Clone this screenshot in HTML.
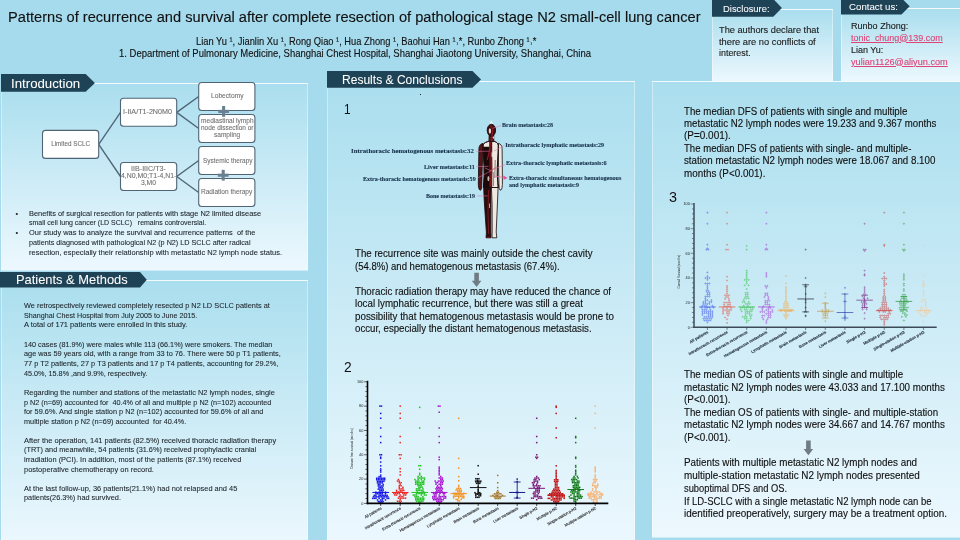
<!DOCTYPE html>
<html><head><meta charset="utf-8"><title>Poster</title><style>
html,body{margin:0;padding:0}
body{width:960px;height:540px;overflow:hidden;background:#a6dbee;position:relative;font-family:"Liberation Sans",sans-serif}
.p{position:absolute;box-sizing:border-box;border:1px solid rgba(255,255,255,.42);background:linear-gradient(180deg,#aadeee 0%,#edf8fe 100%)}
.a{position:absolute;overflow:visible}
.t{position:absolute;white-space:nowrap;transform-origin:0 50%;display:block}
#root{position:absolute;left:0;top:0;width:960px;height:540px;overflow:hidden;will-change:transform;transform:translateZ(0)}
</style></head><body><div id="root">
<div class="p" style="left:712px;top:9px;width:121px;height:74px;"></div>
<div class="p" style="left:841px;top:8px;width:125px;height:75px;"></div>
<div class="p" style="left:1px;top:83px;width:306.7px;height:188px;"></div>
<div class="p" style="left:1px;top:279.5px;width:306.7px;height:270px;"></div>
<div class="p" style="left:327px;top:81px;width:308px;height:470px;"></div>
<div class="p" style="left:652px;top:81px;width:320px;height:456.5px;"></div>
<svg class="a" style="left:1px;top:74px" width="93.9" height="17.8" viewBox="0 0 93.9 17.8"><polygon points="0,0 84.7,0 93.9,8.9 84.7,17.8 0,17.8" fill="#1e4256"/></svg>
<svg class="a" style="left:-2px;top:272px" width="148.8" height="15.6" viewBox="0 0 148.8 15.6"><polygon points="0,0 142,0 148.8,7.8 142,15.6 0,15.6" fill="#1e4256"/></svg>
<svg class="a" style="left:327px;top:71px" width="154.1" height="16.8" viewBox="0 0 154.1 16.8"><polygon points="0,0 145.5,0 154.1,8.4 145.5,16.8 0,16.8" fill="#1e4256"/></svg>
<svg class="a" style="left:712px;top:-1px" width="69.89999999999999" height="17.8" viewBox="0 0 69.89999999999999 17.8"><polygon points="0,0 61.3,0 69.89999999999999,8.9 61.3,17.8 0,17.8" fill="#1e4256"/></svg>
<svg class="a" style="left:841px;top:-2px" width="68.7" height="16.5" viewBox="0 0 68.7 16.5"><polygon points="0,0 60.5,0 68.7,8.25 60.5,16.5 0,16.5" fill="#1e4256"/></svg>
<span class="t" style="left:10.50px;top:74.07px;font-size:13px;line-height:19px;height:19px;color:#ffffff;font-family:'Liberation Sans',sans-serif;transform:scaleX(1.0186);-webkit-text-stroke:0.05px #ffffff;">Introduction</span>
<span class="t" style="left:16.30px;top:269.57px;font-size:13px;line-height:19px;height:19px;color:#ffffff;font-family:'Liberation Sans',sans-serif;transform:scaleX(0.9909);-webkit-text-stroke:0.05px #ffffff;">Patients &amp; Methods</span>
<span class="t" style="left:341.50px;top:70.07px;font-size:13px;line-height:19px;height:19px;color:#ffffff;font-family:'Liberation Sans',sans-serif;transform:scaleX(0.9265);-webkit-text-stroke:0.05px #ffffff;">Results &amp; Conclusions</span>
<span class="t" style="left:722.70px;top:0.95px;font-size:9.8px;line-height:15px;height:15px;color:#ffffff;font-family:'Liberation Sans',sans-serif;transform:scaleX(0.9614);-webkit-text-stroke:0.05px #ffffff;">Disclosure:</span>
<span class="t" style="left:849.30px;top:-0.85px;font-size:9.8px;line-height:15px;height:15px;color:#ffffff;font-family:'Liberation Sans',sans-serif;transform:scaleX(0.9885);-webkit-text-stroke:0.05px #ffffff;">Contact us:</span>
<span class="t" style="left:7.50px;top:6.58px;font-size:14px;line-height:20px;height:20px;color:#111111;font-family:'Liberation Sans',sans-serif;transform:scaleX(1.0445);-webkit-text-stroke:0.12px #111111;">Patterns of recurrence and survival after complete resection of pathological stage N2 small-cell lung cancer</span>
<span class="t" style="left:195.50px;top:33.90px;font-size:10.3px;line-height:15px;height:15px;color:#111111;font-family:'Liberation Sans',sans-serif;transform:scaleX(0.9043);-webkit-text-stroke:0.12px #111111;">Lian Yu ¹, Jianlin Xu ¹, Rong Qiao ¹, Hua Zhong ¹, Baohui Han ¹˒*, Runbo Zhong ¹˒*</span>
<span class="t" style="left:118.80px;top:46.30px;font-size:10.3px;line-height:15px;height:15px;color:#111111;font-family:'Liberation Sans',sans-serif;transform:scaleX(0.9218);-webkit-text-stroke:0.12px #111111;">1. Department of Pulmonary Medicine, Shanghai Chest Hospital, Shanghai Jiaotong University, Shanghai, China</span>
<span class="t" style="left:719.30px;top:23.02px;font-size:9px;line-height:14px;height:14px;color:#1c1c1c;font-family:'Liberation Sans',sans-serif;transform:scaleX(1.0250);-webkit-text-stroke:0.12px #1c1c1c;">The authors declare that</span>
<span class="t" style="left:719.30px;top:34.62px;font-size:9px;line-height:14px;height:14px;color:#1c1c1c;font-family:'Liberation Sans',sans-serif;transform:scaleX(1.0336);-webkit-text-stroke:0.12px #1c1c1c;">there are no conflicts of</span>
<span class="t" style="left:719.30px;top:46.22px;font-size:9px;line-height:14px;height:14px;color:#1c1c1c;font-family:'Liberation Sans',sans-serif;transform:scaleX(0.9902);-webkit-text-stroke:0.12px #1c1c1c;">interest.</span>
<span class="t" style="left:851.00px;top:19.02px;font-size:9px;line-height:14px;height:14px;color:#1c1c1c;font-family:'Liberation Sans',sans-serif;transform:scaleX(1.0045);-webkit-text-stroke:0.12px #1c1c1c;">Runbo Zhong:</span>
<span class="t" style="left:851.00px;top:30.52px;font-size:9px;line-height:14px;height:14px;color:#dd4477;font-family:'Liberation Sans',sans-serif;transform:scaleX(0.9946);text-decoration:underline;-webkit-text-stroke:0.12px #dd4477;">tonic_chung@139.com</span>
<span class="t" style="left:851.00px;top:42.92px;font-size:9px;line-height:14px;height:14px;color:#1c1c1c;font-family:'Liberation Sans',sans-serif;-webkit-text-stroke:0.12px #1c1c1c;">Lian Yu:</span>
<span class="t" style="left:851.00px;top:54.52px;font-size:9px;line-height:14px;height:14px;color:#dd4477;font-family:'Liberation Sans',sans-serif;transform:scaleX(1.0176);text-decoration:underline;-webkit-text-stroke:0.12px #dd4477;">yulian1126@aliyun.com</span>
<span class="t" style="left:15.6px;top:207.6px;font-size:7.5px;line-height:12px;color:#222">&#8226;</span>
<span class="t" style="left:15.6px;top:227.3px;font-size:7.5px;line-height:12px;color:#222">&#8226;</span>
<span class="t" style="left:29.30px;top:208.68px;font-size:7.1px;line-height:11px;height:11px;color:#20282e;font-family:'Liberation Sans',sans-serif;transform:scaleX(1.0478);-webkit-text-stroke:0.08px #20282e;">Benefits of surgical resection for patients with stage N2 limited disease</span>
<span class="t" style="left:29.30px;top:218.38px;font-size:7.1px;line-height:11px;height:11px;color:#20282e;font-family:'Liberation Sans',sans-serif;transform:scaleX(0.9859);-webkit-text-stroke:0.08px #20282e;white-space:pre;">small cell lung cancer (LD SCLC)   remains controversial.</span>
<span class="t" style="left:29.30px;top:228.28px;font-size:7.1px;line-height:11px;height:11px;color:#20282e;font-family:'Liberation Sans',sans-serif;transform:scaleX(1.0463);-webkit-text-stroke:0.08px #20282e;white-space:pre;">Our study was to analyze the survival and recurrence patterns  of the</span>
<span class="t" style="left:29.30px;top:237.88px;font-size:7.1px;line-height:11px;height:11px;color:#20282e;font-family:'Liberation Sans',sans-serif;transform:scaleX(1.0176);-webkit-text-stroke:0.08px #20282e;">patients diagnosed with pathological N2 (p N2) LD SCLC after radical</span>
<span class="t" style="left:29.30px;top:247.58px;font-size:7.1px;line-height:11px;height:11px;color:#20282e;font-family:'Liberation Sans',sans-serif;transform:scaleX(1.0570);-webkit-text-stroke:0.08px #20282e;">resection, especially their relationship with metastatic N2 lymph node status.</span>
<span class="t" style="left:24.00px;top:300.88px;font-size:7.1px;line-height:11px;height:11px;color:#20282e;font-family:'Liberation Sans',sans-serif;transform:scaleX(1.0361);-webkit-text-stroke:0.08px #20282e;white-space:pre;">We retrospectively reviewed completely resected p N2 LD SCLC patients at</span>
<span class="t" style="left:24.00px;top:310.58px;font-size:7.1px;line-height:11px;height:11px;color:#20282e;font-family:'Liberation Sans',sans-serif;transform:scaleX(1.0105);-webkit-text-stroke:0.08px #20282e;white-space:pre;">Shanghai Chest Hospital from July 2005 to June 2015.</span>
<span class="t" style="left:24.00px;top:320.38px;font-size:7.1px;line-height:11px;height:11px;color:#20282e;font-family:'Liberation Sans',sans-serif;transform:scaleX(1.0631);-webkit-text-stroke:0.08px #20282e;white-space:pre;">A total of 171 patients were enrolled in this study.</span>
<span class="t" style="left:24.00px;top:339.58px;font-size:7.1px;line-height:11px;height:11px;color:#20282e;font-family:'Liberation Sans',sans-serif;transform:scaleX(1.0217);-webkit-text-stroke:0.08px #20282e;white-space:pre;">140 cases (81.9%) were males while 113 (66.1%) were smokers. The median</span>
<span class="t" style="left:24.00px;top:349.38px;font-size:7.1px;line-height:11px;height:11px;color:#20282e;font-family:'Liberation Sans',sans-serif;transform:scaleX(1.0363);-webkit-text-stroke:0.08px #20282e;white-space:pre;">age was 59 years old, with a range from 33 to 76. There were 50 p T1 patients,</span>
<span class="t" style="left:24.00px;top:358.98px;font-size:7.1px;line-height:11px;height:11px;color:#20282e;font-family:'Liberation Sans',sans-serif;transform:scaleX(1.0399);-webkit-text-stroke:0.08px #20282e;white-space:pre;">77 p T2 patients, 27 p T3 patients and 17 p T4 patients, accounting for 29.2%,</span>
<span class="t" style="left:24.00px;top:368.78px;font-size:7.1px;line-height:11px;height:11px;color:#20282e;font-family:'Liberation Sans',sans-serif;transform:scaleX(1.0204);-webkit-text-stroke:0.08px #20282e;white-space:pre;">45.0%, 15.8% ,and 9.9%, respectively.</span>
<span class="t" style="left:24.00px;top:387.98px;font-size:7.1px;line-height:11px;height:11px;color:#20282e;font-family:'Liberation Sans',sans-serif;transform:scaleX(1.0426);-webkit-text-stroke:0.08px #20282e;white-space:pre;">Regarding the number and stations of the metastatic N2 lymph nodes, single</span>
<span class="t" style="left:24.00px;top:397.58px;font-size:7.1px;line-height:11px;height:11px;color:#20282e;font-family:'Liberation Sans',sans-serif;transform:scaleX(1.0213);-webkit-text-stroke:0.08px #20282e;white-space:pre;">p N2 (n=69) accounted for  40.4% of all and multiple p N2 (n=102) accounted</span>
<span class="t" style="left:24.00px;top:407.18px;font-size:7.1px;line-height:11px;height:11px;color:#20282e;font-family:'Liberation Sans',sans-serif;transform:scaleX(1.0346);-webkit-text-stroke:0.08px #20282e;white-space:pre;">for 59.6%. And single station p N2 (n=102) accounted for 59.6% of all and</span>
<span class="t" style="left:24.00px;top:416.88px;font-size:7.1px;line-height:11px;height:11px;color:#20282e;font-family:'Liberation Sans',sans-serif;transform:scaleX(1.0280);-webkit-text-stroke:0.08px #20282e;white-space:pre;">multiple station p N2 (n=69) accounted  for 40.4%.</span>
<span class="t" style="left:24.00px;top:435.98px;font-size:7.1px;line-height:11px;height:11px;color:#20282e;font-family:'Liberation Sans',sans-serif;transform:scaleX(1.0592);-webkit-text-stroke:0.08px #20282e;white-space:pre;">After the operation, 141 patients (82.5%) received thoracic radiation therapy</span>
<span class="t" style="left:24.00px;top:445.08px;font-size:7.1px;line-height:11px;height:11px;color:#20282e;font-family:'Liberation Sans',sans-serif;transform:scaleX(1.0324);-webkit-text-stroke:0.08px #20282e;white-space:pre;">(TRT) and meanwhile, 54 patients (31.6%) received prophylactic cranial</span>
<span class="t" style="left:24.00px;top:455.18px;font-size:7.1px;line-height:11px;height:11px;color:#20282e;font-family:'Liberation Sans',sans-serif;transform:scaleX(1.0458);-webkit-text-stroke:0.08px #20282e;white-space:pre;">irradiation (PCI). In addition, most of the patients (87.1%) received</span>
<span class="t" style="left:24.00px;top:464.88px;font-size:7.1px;line-height:11px;height:11px;color:#20282e;font-family:'Liberation Sans',sans-serif;transform:scaleX(1.0523);-webkit-text-stroke:0.08px #20282e;white-space:pre;">postoperative chemotherapy on record.</span>
<span class="t" style="left:24.00px;top:483.98px;font-size:7.1px;line-height:11px;height:11px;color:#20282e;font-family:'Liberation Sans',sans-serif;transform:scaleX(1.0462);-webkit-text-stroke:0.08px #20282e;white-space:pre;">At the last follow-up, 36 patients(21.1%) had not relapsed and 45</span>
<span class="t" style="left:24.00px;top:492.98px;font-size:7.1px;line-height:11px;height:11px;color:#20282e;font-family:'Liberation Sans',sans-serif;transform:scaleX(1.0327);-webkit-text-stroke:0.08px #20282e;white-space:pre;">patients(26.3%) had survived.</span>
<span class="t" style="left:355.00px;top:246.43px;font-size:10px;line-height:15px;height:15px;color:#101010;font-family:'Liberation Sans',sans-serif;transform:scaleX(0.9689);-webkit-text-stroke:0.12px #101010;">The recurrence site was mainly outside the chest cavity</span>
<span class="t" style="left:355.00px;top:258.73px;font-size:10px;line-height:15px;height:15px;color:#101010;font-family:'Liberation Sans',sans-serif;transform:scaleX(0.9540);-webkit-text-stroke:0.12px #101010;">(54.8%) and hematogenous metastasis (67.4%).</span>
<span class="t" style="left:355.00px;top:283.83px;font-size:10px;line-height:15px;height:15px;color:#101010;font-family:'Liberation Sans',sans-serif;transform:scaleX(0.9716);-webkit-text-stroke:0.12px #101010;">Thoracic radiation therapy may have reduced the chance of</span>
<span class="t" style="left:355.00px;top:296.33px;font-size:10px;line-height:15px;height:15px;color:#101010;font-family:'Liberation Sans',sans-serif;transform:scaleX(0.9790);-webkit-text-stroke:0.12px #101010;">local lymphatic recurrence, but there was still a great</span>
<span class="t" style="left:355.00px;top:308.83px;font-size:10px;line-height:15px;height:15px;color:#101010;font-family:'Liberation Sans',sans-serif;transform:scaleX(0.9788);-webkit-text-stroke:0.12px #101010;">possibility that hematogenous metastasis would be prone to</span>
<span class="t" style="left:355.00px;top:321.33px;font-size:10px;line-height:15px;height:15px;color:#101010;font-family:'Liberation Sans',sans-serif;transform:scaleX(0.9674);-webkit-text-stroke:0.12px #101010;">occur, especially the distant hematogenous metastasis.</span>
<span class="t" style="left:684.20px;top:103.53px;font-size:10px;line-height:15px;height:15px;color:#101010;font-family:'Liberation Sans',sans-serif;transform:scaleX(0.9680);-webkit-text-stroke:0.12px #101010;">The median DFS of patients with single and multiple</span>
<span class="t" style="left:684.20px;top:115.73px;font-size:10px;line-height:15px;height:15px;color:#101010;font-family:'Liberation Sans',sans-serif;transform:scaleX(0.9661);-webkit-text-stroke:0.12px #101010;">metastatic N2 lymph nodes were 19.233 and 9.367 months</span>
<span class="t" style="left:684.20px;top:128.23px;font-size:10px;line-height:15px;height:15px;color:#101010;font-family:'Liberation Sans',sans-serif;transform:scaleX(0.9963);-webkit-text-stroke:0.12px #101010;">(P=0.001).</span>
<span class="t" style="left:684.20px;top:140.93px;font-size:10px;line-height:15px;height:15px;color:#101010;font-family:'Liberation Sans',sans-serif;transform:scaleX(0.9581);-webkit-text-stroke:0.12px #101010;">The median DFS of patients with single- and multiple-</span>
<span class="t" style="left:684.20px;top:153.33px;font-size:10px;line-height:15px;height:15px;color:#101010;font-family:'Liberation Sans',sans-serif;transform:scaleX(0.9746);-webkit-text-stroke:0.12px #101010;">station metastatic N2 lymph nodes were 18.067 and 8.100</span>
<span class="t" style="left:684.20px;top:165.93px;font-size:10px;line-height:15px;height:15px;color:#101010;font-family:'Liberation Sans',sans-serif;transform:scaleX(0.9861);-webkit-text-stroke:0.12px #101010;">months (P&lt;0.001).</span>
<span class="t" style="left:684.20px;top:367.33px;font-size:10px;line-height:15px;height:15px;color:#101010;font-family:'Liberation Sans',sans-serif;transform:scaleX(0.9732);-webkit-text-stroke:0.12px #101010;">The median OS of patients with single and multiple</span>
<span class="t" style="left:684.20px;top:379.73px;font-size:10px;line-height:15px;height:15px;color:#101010;font-family:'Liberation Sans',sans-serif;transform:scaleX(0.9774);-webkit-text-stroke:0.12px #101010;">metastatic N2 lymph nodes were 43.033 and 17.100 months</span>
<span class="t" style="left:684.20px;top:392.23px;font-size:10px;line-height:15px;height:15px;color:#101010;font-family:'Liberation Sans',sans-serif;transform:scaleX(0.9899);-webkit-text-stroke:0.12px #101010;">(P&lt;0.001).</span>
<span class="t" style="left:684.20px;top:404.83px;font-size:10px;line-height:15px;height:15px;color:#101010;font-family:'Liberation Sans',sans-serif;transform:scaleX(0.9726);-webkit-text-stroke:0.12px #101010;">The median OS of patients with single- and multiple-station</span>
<span class="t" style="left:684.20px;top:417.33px;font-size:10px;line-height:15px;height:15px;color:#101010;font-family:'Liberation Sans',sans-serif;transform:scaleX(0.9774);-webkit-text-stroke:0.12px #101010;">metastatic N2 lymph nodes were 34.667 and 14.767 months</span>
<span class="t" style="left:684.20px;top:429.83px;font-size:10px;line-height:15px;height:15px;color:#101010;font-family:'Liberation Sans',sans-serif;transform:scaleX(0.9899);-webkit-text-stroke:0.12px #101010;">(P&lt;0.001).</span>
<span class="t" style="left:684.20px;top:455.13px;font-size:10px;line-height:15px;height:15px;color:#101010;font-family:'Liberation Sans',sans-serif;transform:scaleX(0.9844);-webkit-text-stroke:0.12px #101010;">Patients with multiple metastatic N2 lymph nodes and</span>
<span class="t" style="left:684.20px;top:468.13px;font-size:10px;line-height:15px;height:15px;color:#101010;font-family:'Liberation Sans',sans-serif;transform:scaleX(0.9912);-webkit-text-stroke:0.12px #101010;">multiple-station metastatic N2 lymph nodes presented</span>
<span class="t" style="left:684.20px;top:480.73px;font-size:10px;line-height:15px;height:15px;color:#101010;font-family:'Liberation Sans',sans-serif;transform:scaleX(0.9321);-webkit-text-stroke:0.12px #101010;">suboptimal DFS and OS.</span>
<span class="t" style="left:684.20px;top:493.73px;font-size:10px;line-height:15px;height:15px;color:#101010;font-family:'Liberation Sans',sans-serif;transform:scaleX(0.9515);-webkit-text-stroke:0.12px #101010;">If LD-SCLC with a single metastatic N2 lymph node can be</span>
<span class="t" style="left:684.20px;top:506.33px;font-size:10px;line-height:15px;height:15px;color:#101010;font-family:'Liberation Sans',sans-serif;transform:scaleX(0.9909);-webkit-text-stroke:0.12px #101010;">identified preoperatively, surgery may be a treatment option.</span>
<span class="t" style="left:344.30px;top:98.38px;font-size:15.2px;line-height:22px;height:22px;color:#101010;font-family:'Liberation Sans',sans-serif;transform:scaleX(0.7807);">1</span>
<span class="t" style="left:344.30px;top:356.18px;font-size:15.2px;line-height:22px;height:22px;color:#101010;font-family:'Liberation Sans',sans-serif;transform:scaleX(0.9108);">2</span>
<span class="t" style="left:669.30px;top:186.38px;font-size:15.2px;line-height:22px;height:22px;color:#101010;font-family:'Liberation Sans',sans-serif;transform:scaleX(0.9463);">3</span>
<div class="a" style="left:419.5px;top:93.5px;width:1.2px;height:1.2px;background:#222"></div>
<svg class="a" style="left:0;top:0" width="960" height="540"><polygon points="474.30,272.80 478.90,272.80 478.90,280.80 481.40,280.80 476.60,287.00 471.80,280.80 474.30,280.80" fill="#707b84"/></svg>
<svg class="a" style="left:0;top:0" width="960" height="540"><polygon points="806.10,440.60 810.70,440.60 810.70,449.00 813.20,449.00 808.40,455.20 803.60,449.00 806.10,449.00" fill="#707b84"/></svg>
<svg class="a" style="left:0;top:0" width="320" height="280" viewBox="0 0 320 280"><line x1="98.7" y1="144.4" x2="120.5" y2="112.4" stroke="#4f6576" stroke-width="1.35"/><line x1="98.7" y1="144.4" x2="120.5" y2="176.5" stroke="#4f6576" stroke-width="1.35"/><line x1="176.7" y1="112.4" x2="198.7" y2="96.5" stroke="#4f6576" stroke-width="1.35"/><line x1="176.7" y1="112.4" x2="198.7" y2="128.5" stroke="#4f6576" stroke-width="1.35"/><line x1="176.7" y1="176.5" x2="198.7" y2="160.5" stroke="#4f6576" stroke-width="1.35"/><line x1="176.7" y1="176.5" x2="198.7" y2="192.5" stroke="#4f6576" stroke-width="1.35"/><rect x="42.5" y="130.4" width="56.2" height="28" rx="3" ry="3" fill="#ffffff" stroke="#4f6576" stroke-width="1.1"/><rect x="120.5" y="98.3" width="56.2" height="28" rx="3" ry="3" fill="#ffffff" stroke="#4f6576" stroke-width="1.1"/><rect x="120.5" y="162.5" width="56.2" height="28" rx="3" ry="3" fill="#ffffff" stroke="#4f6576" stroke-width="1.1"/><rect x="198.7" y="82.5" width="56.2" height="28" rx="3" ry="3" fill="#ffffff" stroke="#4f6576" stroke-width="1.1"/><rect x="198.7" y="114.5" width="56.2" height="28" rx="3" ry="3" fill="#ffffff" stroke="#4f6576" stroke-width="1.1"/><rect x="198.7" y="146.5" width="56.2" height="28" rx="3" ry="3" fill="#ffffff" stroke="#4f6576" stroke-width="1.1"/><rect x="198.7" y="178.5" width="56.2" height="28" rx="3" ry="3" fill="#ffffff" stroke="#4f6576" stroke-width="1.1"/><rect x="218.2" y="109.85000000000001" width="10.8" height="3.1" fill="#6b8192"/><rect x="222.04999999999998" y="106.0" width="3.1" height="10.8" fill="#6b8192"/><rect x="217.79999999999998" y="173.64999999999998" width="10.8" height="3.1" fill="#6b8192"/><rect x="221.64999999999998" y="169.79999999999998" width="3.1" height="10.8" fill="#6b8192"/></svg>
<span class="t" style="left:51.20px;top:139.45px;font-size:6.3px;line-height:10px;height:10px;color:#6f6f6f;font-family:'Liberation Sans',sans-serif;-webkit-text-stroke:0.08px #6f6f6f;">Limited SCLC</span>
<span class="t" style="left:123.00px;top:106.95px;font-size:6.3px;line-height:10px;height:10px;color:#6f6f6f;font-family:'Liberation Sans',sans-serif;transform:scaleX(1.1379);-webkit-text-stroke:0.08px #6f6f6f;">I-IIA/T1-2N0M0</span>
<span class="t" style="left:131.20px;top:163.75px;font-size:6.3px;line-height:10px;height:10px;color:#6f6f6f;font-family:'Liberation Sans',sans-serif;transform:scaleX(1.1363);-webkit-text-stroke:0.08px #6f6f6f;">IIB-IIIC/T3-</span>
<span class="t" style="left:120.80px;top:170.75px;font-size:6.3px;line-height:10px;height:10px;color:#6f6f6f;font-family:'Liberation Sans',sans-serif;transform:scaleX(1.0988);-webkit-text-stroke:0.08px #6f6f6f;">4,N0,M0;T1-4,N1-</span>
<span class="t" style="left:140.50px;top:177.55px;font-size:6.3px;line-height:10px;height:10px;color:#6f6f6f;font-family:'Liberation Sans',sans-serif;transform:scaleX(1.0710);-webkit-text-stroke:0.08px #6f6f6f;">3,M0</span>
<span class="t" style="left:210.50px;top:90.75px;font-size:6.3px;line-height:10px;height:10px;color:#6f6f6f;font-family:'Liberation Sans',sans-serif;transform:scaleX(1.0546);-webkit-text-stroke:0.08px #6f6f6f;">Lobectomy</span>
<span class="t" style="left:201.20px;top:115.75px;font-size:6.3px;line-height:10px;height:10px;color:#6f6f6f;font-family:'Liberation Sans',sans-serif;transform:scaleX(1.0432);-webkit-text-stroke:0.08px #6f6f6f;">mediastinal lymph</span>
<span class="t" style="left:200.50px;top:122.95px;font-size:6.3px;line-height:10px;height:10px;color:#6f6f6f;font-family:'Liberation Sans',sans-serif;transform:scaleX(1.0267);-webkit-text-stroke:0.08px #6f6f6f;">node dissection or</span>
<span class="t" style="left:213.80px;top:129.95px;font-size:6.3px;line-height:10px;height:10px;color:#6f6f6f;font-family:'Liberation Sans',sans-serif;transform:scaleX(1.0391);-webkit-text-stroke:0.08px #6f6f6f;">sampling</span>
<span class="t" style="left:202.50px;top:155.75px;font-size:6.3px;line-height:10px;height:10px;color:#6f6f6f;font-family:'Liberation Sans',sans-serif;transform:scaleX(1.0245);-webkit-text-stroke:0.08px #6f6f6f;">Systemic therapy</span>
<span class="t" style="left:201.20px;top:187.45px;font-size:6.3px;line-height:10px;height:10px;color:#6f6f6f;font-family:'Liberation Sans',sans-serif;transform:scaleX(1.0388);-webkit-text-stroke:0.08px #6f6f6f;">Radiation therapy</span>
<svg class="a" style="left:0;top:0" width="960" height="540" viewBox="0 0 960 540"><polygon points="491.3,120.2 489.0,125.0 493.7,125.0" fill="#f2fafd" opacity="0.92"/><path d="M 483.0,143.4 C 480.6,143.8 479.0,145.6 478.9,148.6 L 478.6,166 L 478.3,184.5 Q 478.6,190.6 480.6,190.2 Q 482.0,189.6 481.8,184 L 482.2,168 L 483.0,151 Z" fill="#5a1418" stroke="#160a0c" stroke-width="0.8" stroke-linejoin="round"/><path d="M 498.4,143.4 C 500.6,143.8 502.0,145.6 502.1,148.6 L 502.3,166 L 502.4,184.5 Q 502.0,190.6 500.2,190.2 Q 498.8,189.6 498.9,184 L 498.6,168 L 498.2,151 Z" fill="#efe9e0" stroke="#160a0c" stroke-width="0.8" stroke-linejoin="round"/><path d="M 483.5,184 L 491.0,184 L 490.9,205 L 490.8,230 L 491.0,237.8 L 486.0,237.8 L 486.4,233 L 485.4,218 L 484.2,200 Z" fill="#2a0c0e" stroke="#160a0c" stroke-width="0.8" stroke-linejoin="round"/><path d="M 491.3,184 L 498.2,184 L 497.6,200 L 496.8,218 L 496.2,232 L 496.8,237.8 L 492.0,237.8 L 492.2,230 L 492.1,205 Z" fill="#efe9e0" stroke="#160a0c" stroke-width="0.8" stroke-linejoin="round"/><path d="M 488.9,141.2 L 493.9,141.2 C 496.0,142.0 497.8,142.8 498.3,145 L 498.2,152 L 497.4,166 L 497.3,176 L 498.2,187.5 L 483.4,187.5 L 484.2,176 L 484.1,166 L 483.2,152 L 483.1,145 C 483.6,142.8 486.6,142.0 488.9,141.2 Z" fill="#efe9e0" stroke="#160a0c" stroke-width="0.8" stroke-linejoin="round"/><defs><clipPath id="tl"><rect x="470" y="146.8" width="21.6" height="60"/></clipPath><clipPath id="tc"><rect x="489.2" y="140" width="3.0" height="50"/></clipPath></defs><path d="M 488.9,141.2 L 493.9,141.2 C 496.0,142.0 497.8,142.8 498.3,145 L 498.2,152 L 497.4,166 L 497.3,176 L 498.2,187.5 L 483.4,187.5 L 484.2,176 L 484.1,166 L 483.2,152 L 483.1,145 C 483.6,142.8 486.6,142.0 488.9,141.2 Z" fill="#1c0808" clip-path="url(#tl)"/><path d="M 488.9,141.2 L 493.9,141.2 C 496.0,142.0 497.8,142.8 498.3,145 L 498.2,152 L 497.4,166 L 497.3,176 L 498.2,187.5 L 483.4,187.5 L 484.2,176 L 484.1,166 L 483.2,152 L 483.1,145 C 483.6,142.8 486.6,142.0 488.9,141.2 Z" fill="#5a1418" clip-path="url(#tc)"/><path d="M 488.9,141.2 L 493.9,141.2 C 496.0,142.0 497.8,142.8 498.3,145 L 498.2,152 L 497.4,166 L 497.3,176 L 498.2,187.5 L 483.4,187.5 L 484.2,176 L 484.1,166 L 483.2,152 L 483.1,145 C 483.6,142.8 486.6,142.0 488.9,141.2 Z" fill="none" stroke="#160a0c" stroke-width="0.8" stroke-linejoin="round"/><path d="M 490.4,142 L 489.2,152 L 487.2,160" stroke="#8e1a24" stroke-width="1.2" fill="none"/><path d="M 491.2,150 L 491.6,170 L 490.6,186" stroke="#7a1820" stroke-width="1.5" fill="none"/><rect x="491.6" y="152.4" width="1.3" height="4.4" fill="#ece3da"/><path d="M 495.2,160 L 494.8,178 M 493.2,172 L 493.4,186" stroke="#5c4a4a" stroke-width="0.7" fill="none"/><path d="M 485.0,168 L 490.6,170.6 L 496.4,167.4" stroke="#b0606c" stroke-width="0.8" fill="none"/><ellipse cx="488.4" cy="178.6" rx="1.0" ry="2.6" fill="#cbb9aa"/><path d="M 488.6,190 L 488.0,212 L 488.6,234" stroke="#7a1a20" stroke-width="1.1" fill="none"/><rect x="489.0" y="203.5" width="1.0" height="4.6" fill="#b8a096"/><path d="M 486.6,237.4 L 490.6,237.4" stroke="#7a1418" stroke-width="1.2"/><path d="M 489.0,135 L 493.8,135 L 493.9,141.6 L 488.9,141.6 Z" fill="#5a1418" stroke="#160a0c" stroke-width="0.6" stroke-linejoin="round"/><ellipse cx="491.4" cy="130.2" rx="4.2" ry="6.0" fill="#3a0e12" stroke="#160a0c" stroke-width="0.9"/><ellipse cx="489.9" cy="131.0" rx="1.2" ry="2.7" fill="#e8d2d2"/><path d="M 490.6,125.6 C 492.6,127 493.2,131 492.0,136 L 491.6,141" stroke="#8a1a26" stroke-width="1.3" fill="none"/><ellipse cx="493.4" cy="137.6" rx="0.7" ry="1.1" fill="#e6d6d2"/><line x1="493.0" y1="128.2" x2="501" y2="125.6" stroke="#e86fa2" stroke-width="0.65" stroke-opacity="0.85"/><line x1="494.2" y1="151.0" x2="504.4" y2="145.6" stroke="#e86fa2" stroke-width="0.65" stroke-opacity="0.85"/><line x1="476.2" y1="151.4" x2="489.2" y2="151.2" stroke="#e86fa2" stroke-width="0.65" stroke-opacity="0.85"/><line x1="476.2" y1="166.6" x2="488.6" y2="166.3" stroke="#e86fa2" stroke-width="0.65" stroke-opacity="0.85"/><line x1="492.8" y1="169.8" x2="505.2" y2="164.6" stroke="#e86fa2" stroke-width="0.65" stroke-opacity="0.85"/><line x1="477.2" y1="178.2" x2="491.5" y2="170.6" stroke="#e86fa2" stroke-width="0.65" stroke-opacity="0.85"/><line x1="493.6" y1="176.0" x2="505.4" y2="177.6" stroke="#e86fa2" stroke-width="0.9" stroke-opacity="0.85"/><polygon points="507.6,177.9 503.3,175.4 503.6,179.8" fill="#e25590"/><line x1="477.0" y1="195.9" x2="487.6" y2="195.9" stroke="#e86fa2" stroke-width="0.65" stroke-opacity="0.85"/></svg>
<span class="t" style="left:502.40px;top:119.94px;font-size:6.1px;line-height:10px;height:10px;color:#15304a;font-family:'Liberation Serif',serif;font-weight:bold;transform:scaleX(0.9934);-webkit-text-stroke:0.1px #15304a;">Brain metastasis:28</span>
<span class="t" style="left:505.20px;top:139.94px;font-size:6.1px;line-height:10px;height:10px;color:#15304a;font-family:'Liberation Serif',serif;font-weight:bold;-webkit-text-stroke:0.1px #15304a;">Intrathoracic lymphatic metastasis:29</span>
<span class="t" style="left:506.10px;top:158.24px;font-size:6.1px;line-height:10px;height:10px;color:#15304a;font-family:'Liberation Serif',serif;font-weight:bold;transform:scaleX(1.0144);-webkit-text-stroke:0.1px #15304a;">Extra-thoracic lymphatic metastasis:6</span>
<span class="t" style="left:509.40px;top:172.94px;font-size:6.1px;line-height:10px;height:10px;color:#15304a;font-family:'Liberation Serif',serif;font-weight:bold;transform:scaleX(0.9961);-webkit-text-stroke:0.1px #15304a;">Extra-thoracic simultaneous hematogenous</span>
<span class="t" style="left:509.40px;top:180.34px;font-size:6.1px;line-height:10px;height:10px;color:#15304a;font-family:'Liberation Serif',serif;font-weight:bold;transform:scaleX(0.9883);-webkit-text-stroke:0.1px #15304a;">and lymphatic metastasis:9</span>
<span class="t" style="left:351.20px;top:145.64px;font-size:6.1px;line-height:10px;height:10px;color:#15304a;font-family:'Liberation Serif',serif;font-weight:bold;transform:scaleX(1.1169);-webkit-text-stroke:0.1px #15304a;">Intrathoracic hematogenous metastasis:32</span>
<span class="t" style="left:424.40px;top:162.24px;font-size:6.1px;line-height:10px;height:10px;color:#15304a;font-family:'Liberation Serif',serif;font-weight:bold;transform:scaleX(1.0118);-webkit-text-stroke:0.1px #15304a;">Liver metastasis:11</span>
<span class="t" style="left:363.40px;top:173.64px;font-size:6.1px;line-height:10px;height:10px;color:#15304a;font-family:'Liberation Serif',serif;font-weight:bold;transform:scaleX(0.9937);-webkit-text-stroke:0.1px #15304a;">Extra-thoracic hematogenous metastasis:59</span>
<span class="t" style="left:426.20px;top:190.94px;font-size:6.1px;line-height:10px;height:10px;color:#15304a;font-family:'Liberation Serif',serif;font-weight:bold;transform:scaleX(0.9870);-webkit-text-stroke:0.1px #15304a;">Bone metastasis:19</span>
<svg class="a" style="left:0;top:0" width="960" height="540" viewBox="0 0 960 540"><rect x="378.35" y="502.29" width="1.5" height="1.5" fill="#1414e4"/><rect x="379.95" y="502.29" width="1.5" height="1.5" fill="#1414e4"/><rect x="381.55" y="502.29" width="1.5" height="1.5" fill="#1414e4"/><rect x="377.55" y="500.74" width="1.5" height="1.5" fill="#1414e4"/><rect x="379.15" y="500.74" width="1.5" height="1.5" fill="#1414e4"/><rect x="380.75" y="500.74" width="1.5" height="1.5" fill="#1414e4"/><rect x="382.35" y="500.74" width="1.5" height="1.5" fill="#1414e4"/><rect x="376.75" y="499.19" width="1.5" height="1.5" fill="#1414e4"/><rect x="379.95" y="499.19" width="1.5" height="1.5" fill="#1414e4"/><rect x="381.55" y="499.19" width="1.5" height="1.5" fill="#1414e4"/><rect x="384.75" y="499.19" width="1.5" height="1.5" fill="#1414e4"/><rect x="371.95" y="497.64" width="1.5" height="1.5" fill="#1414e4"/><rect x="373.55" y="497.64" width="1.5" height="1.5" fill="#1414e4"/><rect x="375.15" y="497.64" width="1.5" height="1.5" fill="#1414e4"/><rect x="378.35" y="497.64" width="1.5" height="1.5" fill="#1414e4"/><rect x="381.55" y="497.64" width="1.5" height="1.5" fill="#1414e4"/><rect x="383.15" y="497.64" width="1.5" height="1.5" fill="#1414e4"/><rect x="386.35" y="497.64" width="1.5" height="1.5" fill="#1414e4"/><rect x="387.95" y="497.64" width="1.5" height="1.5" fill="#1414e4"/><rect x="372.75" y="496.09" width="1.5" height="1.5" fill="#1414e4"/><rect x="374.35" y="496.09" width="1.5" height="1.5" fill="#1414e4"/><rect x="375.95" y="496.09" width="1.5" height="1.5" fill="#1414e4"/><rect x="377.55" y="496.09" width="1.5" height="1.5" fill="#1414e4"/><rect x="379.15" y="496.09" width="1.5" height="1.5" fill="#1414e4"/><rect x="380.75" y="496.09" width="1.5" height="1.5" fill="#1414e4"/><rect x="382.35" y="496.09" width="1.5" height="1.5" fill="#1414e4"/><rect x="383.95" y="496.09" width="1.5" height="1.5" fill="#1414e4"/><rect x="385.55" y="496.09" width="1.5" height="1.5" fill="#1414e4"/><rect x="387.15" y="496.09" width="1.5" height="1.5" fill="#1414e4"/><rect x="373.55" y="494.54" width="1.5" height="1.5" fill="#1414e4"/><rect x="375.15" y="494.54" width="1.5" height="1.5" fill="#1414e4"/><rect x="378.35" y="494.54" width="1.5" height="1.5" fill="#1414e4"/><rect x="379.95" y="494.54" width="1.5" height="1.5" fill="#1414e4"/><rect x="381.55" y="494.54" width="1.5" height="1.5" fill="#1414e4"/><rect x="383.15" y="494.54" width="1.5" height="1.5" fill="#1414e4"/><rect x="384.75" y="494.54" width="1.5" height="1.5" fill="#1414e4"/><rect x="386.35" y="494.54" width="1.5" height="1.5" fill="#1414e4"/><rect x="375.15" y="492.99" width="1.5" height="1.5" fill="#1414e4"/><rect x="376.75" y="492.99" width="1.5" height="1.5" fill="#1414e4"/><rect x="378.35" y="492.99" width="1.5" height="1.5" fill="#1414e4"/><rect x="379.95" y="492.99" width="1.5" height="1.5" fill="#1414e4"/><rect x="381.55" y="492.99" width="1.5" height="1.5" fill="#1414e4"/><rect x="384.75" y="492.99" width="1.5" height="1.5" fill="#1414e4"/><rect x="375.15" y="491.44" width="1.5" height="1.5" fill="#1414e4"/><rect x="378.35" y="491.44" width="1.5" height="1.5" fill="#1414e4"/><rect x="379.95" y="491.44" width="1.5" height="1.5" fill="#1414e4"/><rect x="381.55" y="491.44" width="1.5" height="1.5" fill="#1414e4"/><rect x="384.75" y="491.44" width="1.5" height="1.5" fill="#1414e4"/><rect x="379.15" y="489.89" width="1.5" height="1.5" fill="#1414e4"/><rect x="380.75" y="489.89" width="1.5" height="1.5" fill="#1414e4"/><rect x="382.35" y="489.89" width="1.5" height="1.5" fill="#1414e4"/><rect x="377.55" y="488.34" width="1.5" height="1.5" fill="#1414e4"/><rect x="379.15" y="488.34" width="1.5" height="1.5" fill="#1414e4"/><rect x="380.75" y="488.34" width="1.5" height="1.5" fill="#1414e4"/><rect x="382.35" y="488.34" width="1.5" height="1.5" fill="#1414e4"/><rect x="378.35" y="486.79" width="1.5" height="1.5" fill="#1414e4"/><rect x="379.95" y="486.79" width="1.5" height="1.5" fill="#1414e4"/><rect x="381.55" y="486.79" width="1.5" height="1.5" fill="#1414e4"/><rect x="377.55" y="485.24" width="1.5" height="1.5" fill="#1414e4"/><rect x="379.15" y="485.24" width="1.5" height="1.5" fill="#1414e4"/><rect x="380.75" y="485.24" width="1.5" height="1.5" fill="#1414e4"/><rect x="382.35" y="485.24" width="1.5" height="1.5" fill="#1414e4"/><rect x="377.55" y="483.69" width="1.5" height="1.5" fill="#1414e4"/><rect x="379.15" y="483.69" width="1.5" height="1.5" fill="#1414e4"/><rect x="382.35" y="483.69" width="1.5" height="1.5" fill="#1414e4"/><rect x="376.75" y="482.14" width="1.5" height="1.5" fill="#1414e4"/><rect x="378.35" y="482.14" width="1.5" height="1.5" fill="#1414e4"/><rect x="379.95" y="482.14" width="1.5" height="1.5" fill="#1414e4"/><rect x="381.55" y="482.14" width="1.5" height="1.5" fill="#1414e4"/><rect x="376.75" y="480.59" width="1.5" height="1.5" fill="#1414e4"/><rect x="378.35" y="480.59" width="1.5" height="1.5" fill="#1414e4"/><rect x="379.95" y="480.59" width="1.5" height="1.5" fill="#1414e4"/><rect x="381.55" y="480.59" width="1.5" height="1.5" fill="#1414e4"/><rect x="383.15" y="480.59" width="1.5" height="1.5" fill="#1414e4"/><rect x="375.95" y="479.04" width="1.5" height="1.5" fill="#1414e4"/><rect x="377.55" y="479.04" width="1.5" height="1.5" fill="#1414e4"/><rect x="379.15" y="479.04" width="1.5" height="1.5" fill="#1414e4"/><rect x="380.75" y="479.04" width="1.5" height="1.5" fill="#1414e4"/><rect x="382.35" y="479.04" width="1.5" height="1.5" fill="#1414e4"/><rect x="383.95" y="479.04" width="1.5" height="1.5" fill="#1414e4"/><rect x="375.95" y="477.49" width="1.5" height="1.5" fill="#1414e4"/><rect x="377.55" y="477.49" width="1.5" height="1.5" fill="#1414e4"/><rect x="379.15" y="477.49" width="1.5" height="1.5" fill="#1414e4"/><rect x="380.75" y="477.49" width="1.5" height="1.5" fill="#1414e4"/><rect x="382.35" y="477.49" width="1.5" height="1.5" fill="#1414e4"/><rect x="383.95" y="477.49" width="1.5" height="1.5" fill="#1414e4"/><rect x="378.35" y="475.94" width="1.5" height="1.5" fill="#1414e4"/><rect x="379.95" y="475.94" width="1.5" height="1.5" fill="#1414e4"/><rect x="379.95" y="474.39" width="1.5" height="1.5" fill="#1414e4"/><rect x="379.95" y="471.29" width="1.5" height="1.5" fill="#1414e4"/><rect x="379.95" y="469.74" width="1.5" height="1.5" fill="#1414e4"/><rect x="379.95" y="468.19" width="1.5" height="1.5" fill="#1414e4"/><rect x="379.95" y="465.09" width="1.5" height="1.5" fill="#1414e4"/><rect x="379.15" y="405.37" width="1.5" height="1.5" fill="#1414e4"/><rect x="380.75" y="405.37" width="1.5" height="1.5" fill="#1414e4"/><rect x="379.95" y="412.67" width="1.5" height="1.5" fill="#1414e4"/><rect x="379.95" y="417.53" width="1.5" height="1.5" fill="#1414e4"/><rect x="379.95" y="427.26" width="1.5" height="1.5" fill="#1414e4"/><rect x="379.95" y="435.77" width="1.5" height="1.5" fill="#1414e4"/><rect x="379.95" y="441.85" width="1.5" height="1.5" fill="#1414e4"/><rect x="379.15" y="454.01" width="1.5" height="1.5" fill="#1414e4"/><rect x="380.75" y="454.01" width="1.5" height="1.5" fill="#1414e4"/><rect x="379.95" y="456.44" width="1.5" height="1.5" fill="#1414e4"/><rect x="379.95" y="457.66" width="1.5" height="1.5" fill="#1414e4"/><rect x="379.95" y="461.31" width="1.5" height="1.5" fill="#1414e4"/><line x1="372.40" y1="492.46" x2="389.00" y2="492.46" stroke="#1414e4" stroke-width="1.0"/><rect x="399.45" y="502.04" width="1.5" height="1.5" fill="#ee2424"/><rect x="396.75" y="500.49" width="1.5" height="1.5" fill="#ee2424"/><rect x="398.55" y="500.49" width="1.5" height="1.5" fill="#ee2424"/><rect x="400.35" y="500.49" width="1.5" height="1.5" fill="#ee2424"/><rect x="399.45" y="498.94" width="1.5" height="1.5" fill="#ee2424"/><rect x="397.65" y="497.39" width="1.5" height="1.5" fill="#ee2424"/><rect x="399.45" y="497.39" width="1.5" height="1.5" fill="#ee2424"/><rect x="401.25" y="497.39" width="1.5" height="1.5" fill="#ee2424"/><rect x="403.05" y="497.39" width="1.5" height="1.5" fill="#ee2424"/><rect x="404.85" y="497.39" width="1.5" height="1.5" fill="#ee2424"/><rect x="398.55" y="495.84" width="1.5" height="1.5" fill="#ee2424"/><rect x="400.35" y="495.84" width="1.5" height="1.5" fill="#ee2424"/><rect x="402.15" y="495.84" width="1.5" height="1.5" fill="#ee2424"/><rect x="394.05" y="494.29" width="1.5" height="1.5" fill="#ee2424"/><rect x="395.85" y="494.29" width="1.5" height="1.5" fill="#ee2424"/><rect x="399.45" y="494.29" width="1.5" height="1.5" fill="#ee2424"/><rect x="403.05" y="494.29" width="1.5" height="1.5" fill="#ee2424"/><rect x="404.85" y="494.29" width="1.5" height="1.5" fill="#ee2424"/><rect x="393.15" y="492.74" width="1.5" height="1.5" fill="#ee2424"/><rect x="394.95" y="492.74" width="1.5" height="1.5" fill="#ee2424"/><rect x="396.75" y="492.74" width="1.5" height="1.5" fill="#ee2424"/><rect x="398.55" y="492.74" width="1.5" height="1.5" fill="#ee2424"/><rect x="402.15" y="492.74" width="1.5" height="1.5" fill="#ee2424"/><rect x="403.95" y="492.74" width="1.5" height="1.5" fill="#ee2424"/><rect x="405.75" y="492.74" width="1.5" height="1.5" fill="#ee2424"/><rect x="395.85" y="491.19" width="1.5" height="1.5" fill="#ee2424"/><rect x="397.65" y="491.19" width="1.5" height="1.5" fill="#ee2424"/><rect x="399.45" y="491.19" width="1.5" height="1.5" fill="#ee2424"/><rect x="401.25" y="491.19" width="1.5" height="1.5" fill="#ee2424"/><rect x="395.85" y="489.64" width="1.5" height="1.5" fill="#ee2424"/><rect x="399.45" y="489.64" width="1.5" height="1.5" fill="#ee2424"/><rect x="401.25" y="489.64" width="1.5" height="1.5" fill="#ee2424"/><rect x="403.05" y="489.64" width="1.5" height="1.5" fill="#ee2424"/><rect x="398.55" y="488.09" width="1.5" height="1.5" fill="#ee2424"/><rect x="400.35" y="488.09" width="1.5" height="1.5" fill="#ee2424"/><rect x="402.15" y="488.09" width="1.5" height="1.5" fill="#ee2424"/><rect x="398.55" y="486.54" width="1.5" height="1.5" fill="#ee2424"/><rect x="402.15" y="486.54" width="1.5" height="1.5" fill="#ee2424"/><rect x="398.55" y="484.99" width="1.5" height="1.5" fill="#ee2424"/><rect x="400.35" y="484.99" width="1.5" height="1.5" fill="#ee2424"/><rect x="399.45" y="483.44" width="1.5" height="1.5" fill="#ee2424"/><rect x="398.55" y="481.89" width="1.5" height="1.5" fill="#ee2424"/><rect x="400.35" y="481.89" width="1.5" height="1.5" fill="#ee2424"/><rect x="396.75" y="480.34" width="1.5" height="1.5" fill="#ee2424"/><rect x="398.55" y="480.34" width="1.5" height="1.5" fill="#ee2424"/><rect x="397.65" y="478.79" width="1.5" height="1.5" fill="#ee2424"/><rect x="399.45" y="474.14" width="1.5" height="1.5" fill="#ee2424"/><rect x="399.45" y="471.04" width="1.5" height="1.5" fill="#ee2424"/><rect x="399.45" y="467.94" width="1.5" height="1.5" fill="#ee2424"/><rect x="399.45" y="405.37" width="1.5" height="1.5" fill="#ee2424"/><rect x="399.45" y="412.67" width="1.5" height="1.5" fill="#ee2424"/><rect x="399.45" y="417.53" width="1.5" height="1.5" fill="#ee2424"/><rect x="399.45" y="435.77" width="1.5" height="1.5" fill="#ee2424"/><rect x="399.45" y="441.85" width="1.5" height="1.5" fill="#ee2424"/><rect x="398.55" y="454.01" width="1.5" height="1.5" fill="#ee2424"/><rect x="400.35" y="454.01" width="1.5" height="1.5" fill="#ee2424"/><rect x="399.45" y="457.66" width="1.5" height="1.5" fill="#ee2424"/><line x1="391.90" y1="492.46" x2="408.50" y2="492.46" stroke="#ee2424" stroke-width="1.0"/><rect x="418.15" y="502.04" width="1.5" height="1.5" fill="#20c420"/><rect x="419.75" y="502.04" width="1.5" height="1.5" fill="#20c420"/><rect x="415.75" y="500.49" width="1.5" height="1.5" fill="#20c420"/><rect x="417.35" y="500.49" width="1.5" height="1.5" fill="#20c420"/><rect x="418.95" y="500.49" width="1.5" height="1.5" fill="#20c420"/><rect x="420.55" y="500.49" width="1.5" height="1.5" fill="#20c420"/><rect x="422.15" y="500.49" width="1.5" height="1.5" fill="#20c420"/><rect x="414.95" y="498.94" width="1.5" height="1.5" fill="#20c420"/><rect x="416.55" y="498.94" width="1.5" height="1.5" fill="#20c420"/><rect x="418.15" y="498.94" width="1.5" height="1.5" fill="#20c420"/><rect x="419.75" y="498.94" width="1.5" height="1.5" fill="#20c420"/><rect x="421.35" y="498.94" width="1.5" height="1.5" fill="#20c420"/><rect x="422.95" y="498.94" width="1.5" height="1.5" fill="#20c420"/><rect x="414.95" y="497.39" width="1.5" height="1.5" fill="#20c420"/><rect x="416.55" y="497.39" width="1.5" height="1.5" fill="#20c420"/><rect x="418.15" y="497.39" width="1.5" height="1.5" fill="#20c420"/><rect x="419.75" y="497.39" width="1.5" height="1.5" fill="#20c420"/><rect x="421.35" y="497.39" width="1.5" height="1.5" fill="#20c420"/><rect x="422.95" y="497.39" width="1.5" height="1.5" fill="#20c420"/><rect x="414.15" y="495.84" width="1.5" height="1.5" fill="#20c420"/><rect x="415.75" y="495.84" width="1.5" height="1.5" fill="#20c420"/><rect x="417.35" y="495.84" width="1.5" height="1.5" fill="#20c420"/><rect x="422.15" y="495.84" width="1.5" height="1.5" fill="#20c420"/><rect x="412.55" y="494.29" width="1.5" height="1.5" fill="#20c420"/><rect x="414.15" y="494.29" width="1.5" height="1.5" fill="#20c420"/><rect x="415.75" y="494.29" width="1.5" height="1.5" fill="#20c420"/><rect x="420.55" y="494.29" width="1.5" height="1.5" fill="#20c420"/><rect x="423.75" y="494.29" width="1.5" height="1.5" fill="#20c420"/><rect x="425.35" y="494.29" width="1.5" height="1.5" fill="#20c420"/><rect x="415.75" y="492.74" width="1.5" height="1.5" fill="#20c420"/><rect x="417.35" y="492.74" width="1.5" height="1.5" fill="#20c420"/><rect x="418.95" y="492.74" width="1.5" height="1.5" fill="#20c420"/><rect x="420.55" y="492.74" width="1.5" height="1.5" fill="#20c420"/><rect x="422.15" y="492.74" width="1.5" height="1.5" fill="#20c420"/><rect x="423.75" y="492.74" width="1.5" height="1.5" fill="#20c420"/><rect x="416.55" y="491.19" width="1.5" height="1.5" fill="#20c420"/><rect x="421.35" y="491.19" width="1.5" height="1.5" fill="#20c420"/><rect x="422.95" y="491.19" width="1.5" height="1.5" fill="#20c420"/><rect x="415.75" y="489.64" width="1.5" height="1.5" fill="#20c420"/><rect x="417.35" y="489.64" width="1.5" height="1.5" fill="#20c420"/><rect x="418.95" y="489.64" width="1.5" height="1.5" fill="#20c420"/><rect x="420.55" y="489.64" width="1.5" height="1.5" fill="#20c420"/><rect x="422.15" y="489.64" width="1.5" height="1.5" fill="#20c420"/><rect x="415.75" y="488.09" width="1.5" height="1.5" fill="#20c420"/><rect x="417.35" y="488.09" width="1.5" height="1.5" fill="#20c420"/><rect x="418.95" y="488.09" width="1.5" height="1.5" fill="#20c420"/><rect x="422.15" y="488.09" width="1.5" height="1.5" fill="#20c420"/><rect x="418.15" y="486.54" width="1.5" height="1.5" fill="#20c420"/><rect x="419.75" y="486.54" width="1.5" height="1.5" fill="#20c420"/><rect x="421.35" y="486.54" width="1.5" height="1.5" fill="#20c420"/><rect x="417.35" y="484.99" width="1.5" height="1.5" fill="#20c420"/><rect x="418.95" y="484.99" width="1.5" height="1.5" fill="#20c420"/><rect x="420.55" y="484.99" width="1.5" height="1.5" fill="#20c420"/><rect x="414.95" y="483.44" width="1.5" height="1.5" fill="#20c420"/><rect x="416.55" y="483.44" width="1.5" height="1.5" fill="#20c420"/><rect x="418.15" y="483.44" width="1.5" height="1.5" fill="#20c420"/><rect x="419.75" y="483.44" width="1.5" height="1.5" fill="#20c420"/><rect x="421.35" y="483.44" width="1.5" height="1.5" fill="#20c420"/><rect x="422.95" y="483.44" width="1.5" height="1.5" fill="#20c420"/><rect x="414.95" y="481.89" width="1.5" height="1.5" fill="#20c420"/><rect x="416.55" y="481.89" width="1.5" height="1.5" fill="#20c420"/><rect x="418.15" y="481.89" width="1.5" height="1.5" fill="#20c420"/><rect x="419.75" y="481.89" width="1.5" height="1.5" fill="#20c420"/><rect x="421.35" y="481.89" width="1.5" height="1.5" fill="#20c420"/><rect x="422.95" y="481.89" width="1.5" height="1.5" fill="#20c420"/><rect x="414.95" y="480.34" width="1.5" height="1.5" fill="#20c420"/><rect x="416.55" y="480.34" width="1.5" height="1.5" fill="#20c420"/><rect x="418.15" y="480.34" width="1.5" height="1.5" fill="#20c420"/><rect x="421.35" y="480.34" width="1.5" height="1.5" fill="#20c420"/><rect x="422.95" y="480.34" width="1.5" height="1.5" fill="#20c420"/><rect x="414.15" y="478.79" width="1.5" height="1.5" fill="#20c420"/><rect x="417.35" y="478.79" width="1.5" height="1.5" fill="#20c420"/><rect x="420.55" y="478.79" width="1.5" height="1.5" fill="#20c420"/><rect x="423.75" y="478.79" width="1.5" height="1.5" fill="#20c420"/><rect x="417.35" y="477.24" width="1.5" height="1.5" fill="#20c420"/><rect x="418.95" y="477.24" width="1.5" height="1.5" fill="#20c420"/><rect x="420.55" y="477.24" width="1.5" height="1.5" fill="#20c420"/><rect x="422.15" y="477.24" width="1.5" height="1.5" fill="#20c420"/><rect x="423.75" y="477.24" width="1.5" height="1.5" fill="#20c420"/><rect x="417.35" y="475.69" width="1.5" height="1.5" fill="#20c420"/><rect x="420.55" y="475.69" width="1.5" height="1.5" fill="#20c420"/><rect x="418.95" y="474.14" width="1.5" height="1.5" fill="#20c420"/><rect x="418.95" y="472.59" width="1.5" height="1.5" fill="#20c420"/><rect x="418.95" y="406.59" width="1.5" height="1.5" fill="#20c420"/><rect x="418.95" y="427.26" width="1.5" height="1.5" fill="#20c420"/><rect x="418.95" y="456.44" width="1.5" height="1.5" fill="#20c420"/><rect x="418.15" y="464.95" width="1.5" height="1.5" fill="#20c420"/><rect x="419.75" y="464.95" width="1.5" height="1.5" fill="#20c420"/><rect x="418.95" y="468.60" width="1.5" height="1.5" fill="#20c420"/><line x1="411.40" y1="492.46" x2="428.00" y2="492.46" stroke="#20c420" stroke-width="1.0"/><rect x="436.85" y="502.04" width="1.5" height="1.5" fill="#a810d0"/><rect x="438.45" y="502.04" width="1.5" height="1.5" fill="#a810d0"/><rect x="440.05" y="502.04" width="1.5" height="1.5" fill="#a810d0"/><rect x="436.05" y="500.49" width="1.5" height="1.5" fill="#a810d0"/><rect x="437.65" y="500.49" width="1.5" height="1.5" fill="#a810d0"/><rect x="439.25" y="500.49" width="1.5" height="1.5" fill="#a810d0"/><rect x="440.85" y="500.49" width="1.5" height="1.5" fill="#a810d0"/><rect x="432.85" y="498.94" width="1.5" height="1.5" fill="#a810d0"/><rect x="434.45" y="498.94" width="1.5" height="1.5" fill="#a810d0"/><rect x="436.05" y="498.94" width="1.5" height="1.5" fill="#a810d0"/><rect x="437.65" y="498.94" width="1.5" height="1.5" fill="#a810d0"/><rect x="439.25" y="498.94" width="1.5" height="1.5" fill="#a810d0"/><rect x="440.85" y="498.94" width="1.5" height="1.5" fill="#a810d0"/><rect x="442.45" y="498.94" width="1.5" height="1.5" fill="#a810d0"/><rect x="432.05" y="497.39" width="1.5" height="1.5" fill="#a810d0"/><rect x="433.65" y="497.39" width="1.5" height="1.5" fill="#a810d0"/><rect x="435.25" y="497.39" width="1.5" height="1.5" fill="#a810d0"/><rect x="436.85" y="497.39" width="1.5" height="1.5" fill="#a810d0"/><rect x="438.45" y="497.39" width="1.5" height="1.5" fill="#a810d0"/><rect x="440.05" y="497.39" width="1.5" height="1.5" fill="#a810d0"/><rect x="443.25" y="497.39" width="1.5" height="1.5" fill="#a810d0"/><rect x="444.85" y="497.39" width="1.5" height="1.5" fill="#a810d0"/><rect x="432.05" y="495.84" width="1.5" height="1.5" fill="#a810d0"/><rect x="433.65" y="495.84" width="1.5" height="1.5" fill="#a810d0"/><rect x="435.25" y="495.84" width="1.5" height="1.5" fill="#a810d0"/><rect x="438.45" y="495.84" width="1.5" height="1.5" fill="#a810d0"/><rect x="440.05" y="495.84" width="1.5" height="1.5" fill="#a810d0"/><rect x="441.65" y="495.84" width="1.5" height="1.5" fill="#a810d0"/><rect x="443.25" y="495.84" width="1.5" height="1.5" fill="#a810d0"/><rect x="444.85" y="495.84" width="1.5" height="1.5" fill="#a810d0"/><rect x="433.65" y="494.29" width="1.5" height="1.5" fill="#a810d0"/><rect x="435.25" y="494.29" width="1.5" height="1.5" fill="#a810d0"/><rect x="438.45" y="494.29" width="1.5" height="1.5" fill="#a810d0"/><rect x="443.25" y="494.29" width="1.5" height="1.5" fill="#a810d0"/><rect x="432.85" y="492.74" width="1.5" height="1.5" fill="#a810d0"/><rect x="434.45" y="492.74" width="1.5" height="1.5" fill="#a810d0"/><rect x="436.05" y="492.74" width="1.5" height="1.5" fill="#a810d0"/><rect x="439.25" y="492.74" width="1.5" height="1.5" fill="#a810d0"/><rect x="442.45" y="492.74" width="1.5" height="1.5" fill="#a810d0"/><rect x="444.05" y="492.74" width="1.5" height="1.5" fill="#a810d0"/><rect x="435.25" y="491.19" width="1.5" height="1.5" fill="#a810d0"/><rect x="436.85" y="491.19" width="1.5" height="1.5" fill="#a810d0"/><rect x="438.45" y="491.19" width="1.5" height="1.5" fill="#a810d0"/><rect x="440.05" y="491.19" width="1.5" height="1.5" fill="#a810d0"/><rect x="441.65" y="491.19" width="1.5" height="1.5" fill="#a810d0"/><rect x="436.05" y="489.64" width="1.5" height="1.5" fill="#a810d0"/><rect x="437.65" y="489.64" width="1.5" height="1.5" fill="#a810d0"/><rect x="439.25" y="489.64" width="1.5" height="1.5" fill="#a810d0"/><rect x="440.85" y="489.64" width="1.5" height="1.5" fill="#a810d0"/><rect x="435.25" y="488.09" width="1.5" height="1.5" fill="#a810d0"/><rect x="436.85" y="488.09" width="1.5" height="1.5" fill="#a810d0"/><rect x="438.45" y="488.09" width="1.5" height="1.5" fill="#a810d0"/><rect x="440.05" y="488.09" width="1.5" height="1.5" fill="#a810d0"/><rect x="441.65" y="488.09" width="1.5" height="1.5" fill="#a810d0"/><rect x="436.05" y="486.54" width="1.5" height="1.5" fill="#a810d0"/><rect x="437.65" y="486.54" width="1.5" height="1.5" fill="#a810d0"/><rect x="439.25" y="486.54" width="1.5" height="1.5" fill="#a810d0"/><rect x="440.85" y="486.54" width="1.5" height="1.5" fill="#a810d0"/><rect x="436.85" y="484.99" width="1.5" height="1.5" fill="#a810d0"/><rect x="440.05" y="484.99" width="1.5" height="1.5" fill="#a810d0"/><rect x="435.25" y="483.44" width="1.5" height="1.5" fill="#a810d0"/><rect x="438.45" y="483.44" width="1.5" height="1.5" fill="#a810d0"/><rect x="440.05" y="483.44" width="1.5" height="1.5" fill="#a810d0"/><rect x="441.65" y="483.44" width="1.5" height="1.5" fill="#a810d0"/><rect x="435.25" y="481.89" width="1.5" height="1.5" fill="#a810d0"/><rect x="436.85" y="481.89" width="1.5" height="1.5" fill="#a810d0"/><rect x="440.05" y="481.89" width="1.5" height="1.5" fill="#a810d0"/><rect x="441.65" y="481.89" width="1.5" height="1.5" fill="#a810d0"/><rect x="434.45" y="480.34" width="1.5" height="1.5" fill="#a810d0"/><rect x="437.65" y="480.34" width="1.5" height="1.5" fill="#a810d0"/><rect x="439.25" y="480.34" width="1.5" height="1.5" fill="#a810d0"/><rect x="440.85" y="480.34" width="1.5" height="1.5" fill="#a810d0"/><rect x="442.45" y="480.34" width="1.5" height="1.5" fill="#a810d0"/><rect x="440.05" y="478.79" width="1.5" height="1.5" fill="#a810d0"/><rect x="441.65" y="478.79" width="1.5" height="1.5" fill="#a810d0"/><rect x="438.45" y="477.24" width="1.5" height="1.5" fill="#a810d0"/><rect x="440.05" y="477.24" width="1.5" height="1.5" fill="#a810d0"/><rect x="441.65" y="477.24" width="1.5" height="1.5" fill="#a810d0"/><rect x="440.05" y="475.69" width="1.5" height="1.5" fill="#a810d0"/><rect x="438.45" y="474.14" width="1.5" height="1.5" fill="#a810d0"/><rect x="438.45" y="472.59" width="1.5" height="1.5" fill="#a810d0"/><rect x="438.45" y="471.04" width="1.5" height="1.5" fill="#a810d0"/><rect x="438.45" y="469.49" width="1.5" height="1.5" fill="#a810d0"/><rect x="438.45" y="467.94" width="1.5" height="1.5" fill="#a810d0"/><rect x="438.45" y="466.39" width="1.5" height="1.5" fill="#a810d0"/><rect x="437.65" y="405.37" width="1.5" height="1.5" fill="#a810d0"/><rect x="439.25" y="405.37" width="1.5" height="1.5" fill="#a810d0"/><rect x="438.45" y="411.45" width="1.5" height="1.5" fill="#a810d0"/><rect x="438.45" y="427.26" width="1.5" height="1.5" fill="#a810d0"/><rect x="438.45" y="435.77" width="1.5" height="1.5" fill="#a810d0"/><rect x="438.45" y="441.85" width="1.5" height="1.5" fill="#a810d0"/><rect x="438.45" y="456.44" width="1.5" height="1.5" fill="#a810d0"/><rect x="438.45" y="458.87" width="1.5" height="1.5" fill="#a810d0"/><line x1="430.90" y1="492.46" x2="447.50" y2="492.46" stroke="#a810d0" stroke-width="1.0"/><rect x="457.10" y="500.22" width="1.5" height="1.5" fill="#f5921e"/><rect x="458.80" y="500.22" width="1.5" height="1.5" fill="#f5921e"/><rect x="455.40" y="498.67" width="1.5" height="1.5" fill="#f5921e"/><rect x="457.10" y="498.67" width="1.5" height="1.5" fill="#f5921e"/><rect x="460.50" y="498.67" width="1.5" height="1.5" fill="#f5921e"/><rect x="452.85" y="497.12" width="1.5" height="1.5" fill="#f5921e"/><rect x="457.95" y="497.12" width="1.5" height="1.5" fill="#f5921e"/><rect x="461.35" y="497.12" width="1.5" height="1.5" fill="#f5921e"/><rect x="463.05" y="497.12" width="1.5" height="1.5" fill="#f5921e"/><rect x="452.85" y="495.57" width="1.5" height="1.5" fill="#f5921e"/><rect x="454.55" y="495.57" width="1.5" height="1.5" fill="#f5921e"/><rect x="456.25" y="495.57" width="1.5" height="1.5" fill="#f5921e"/><rect x="457.95" y="495.57" width="1.5" height="1.5" fill="#f5921e"/><rect x="459.65" y="495.57" width="1.5" height="1.5" fill="#f5921e"/><rect x="461.35" y="495.57" width="1.5" height="1.5" fill="#f5921e"/><rect x="463.05" y="495.57" width="1.5" height="1.5" fill="#f5921e"/><rect x="453.70" y="494.02" width="1.5" height="1.5" fill="#f5921e"/><rect x="455.40" y="494.02" width="1.5" height="1.5" fill="#f5921e"/><rect x="457.10" y="494.02" width="1.5" height="1.5" fill="#f5921e"/><rect x="458.80" y="494.02" width="1.5" height="1.5" fill="#f5921e"/><rect x="460.50" y="494.02" width="1.5" height="1.5" fill="#f5921e"/><rect x="462.20" y="494.02" width="1.5" height="1.5" fill="#f5921e"/><rect x="452.85" y="492.47" width="1.5" height="1.5" fill="#f5921e"/><rect x="454.55" y="492.47" width="1.5" height="1.5" fill="#f5921e"/><rect x="456.25" y="492.47" width="1.5" height="1.5" fill="#f5921e"/><rect x="457.95" y="492.47" width="1.5" height="1.5" fill="#f5921e"/><rect x="459.65" y="492.47" width="1.5" height="1.5" fill="#f5921e"/><rect x="463.05" y="492.47" width="1.5" height="1.5" fill="#f5921e"/><rect x="457.10" y="490.92" width="1.5" height="1.5" fill="#f5921e"/><rect x="458.80" y="490.92" width="1.5" height="1.5" fill="#f5921e"/><rect x="460.50" y="490.92" width="1.5" height="1.5" fill="#f5921e"/><rect x="455.40" y="489.37" width="1.5" height="1.5" fill="#f5921e"/><rect x="457.10" y="489.37" width="1.5" height="1.5" fill="#f5921e"/><rect x="458.80" y="489.37" width="1.5" height="1.5" fill="#f5921e"/><rect x="460.50" y="489.37" width="1.5" height="1.5" fill="#f5921e"/><rect x="456.25" y="487.82" width="1.5" height="1.5" fill="#f5921e"/><rect x="457.95" y="487.82" width="1.5" height="1.5" fill="#f5921e"/><rect x="459.65" y="487.82" width="1.5" height="1.5" fill="#f5921e"/><rect x="457.95" y="486.27" width="1.5" height="1.5" fill="#f5921e"/><rect x="457.95" y="484.72" width="1.5" height="1.5" fill="#f5921e"/><rect x="457.95" y="480.07" width="1.5" height="1.5" fill="#f5921e"/><rect x="457.95" y="417.53" width="1.5" height="1.5" fill="#f5921e"/><rect x="457.95" y="457.66" width="1.5" height="1.5" fill="#f5921e"/><rect x="457.95" y="467.39" width="1.5" height="1.5" fill="#f5921e"/><rect x="457.95" y="475.90" width="1.5" height="1.5" fill="#f5921e"/><line x1="450.40" y1="493.67" x2="467.00" y2="493.67" stroke="#f5921e" stroke-width="1.0"/><rect x="475.05" y="496.57" width="1.5" height="1.5" fill="#121212"/><rect x="476.65" y="496.57" width="1.5" height="1.5" fill="#121212"/><rect x="478.25" y="496.57" width="1.5" height="1.5" fill="#121212"/><rect x="475.05" y="495.02" width="1.5" height="1.5" fill="#121212"/><rect x="478.25" y="495.02" width="1.5" height="1.5" fill="#121212"/><rect x="479.85" y="495.02" width="1.5" height="1.5" fill="#121212"/><rect x="475.05" y="493.47" width="1.5" height="1.5" fill="#121212"/><rect x="476.65" y="493.47" width="1.5" height="1.5" fill="#121212"/><rect x="478.25" y="493.47" width="1.5" height="1.5" fill="#121212"/><rect x="479.85" y="493.47" width="1.5" height="1.5" fill="#121212"/><rect x="474.25" y="491.92" width="1.5" height="1.5" fill="#121212"/><rect x="477.45" y="491.92" width="1.5" height="1.5" fill="#121212"/><rect x="479.05" y="491.92" width="1.5" height="1.5" fill="#121212"/><rect x="477.45" y="490.37" width="1.5" height="1.5" fill="#121212"/><rect x="477.45" y="488.82" width="1.5" height="1.5" fill="#121212"/><rect x="477.45" y="485.72" width="1.5" height="1.5" fill="#121212"/><rect x="475.85" y="482.62" width="1.5" height="1.5" fill="#121212"/><rect x="477.45" y="482.62" width="1.5" height="1.5" fill="#121212"/><rect x="479.05" y="482.62" width="1.5" height="1.5" fill="#121212"/><rect x="475.05" y="481.07" width="1.5" height="1.5" fill="#121212"/><rect x="476.65" y="481.07" width="1.5" height="1.5" fill="#121212"/><rect x="478.25" y="481.07" width="1.5" height="1.5" fill="#121212"/><rect x="479.85" y="481.07" width="1.5" height="1.5" fill="#121212"/><rect x="476.65" y="479.52" width="1.5" height="1.5" fill="#121212"/><rect x="475.05" y="477.97" width="1.5" height="1.5" fill="#121212"/><rect x="476.65" y="477.97" width="1.5" height="1.5" fill="#121212"/><rect x="478.25" y="477.97" width="1.5" height="1.5" fill="#121212"/><rect x="477.45" y="464.95" width="1.5" height="1.5" fill="#121212"/><rect x="477.45" y="473.47" width="1.5" height="1.5" fill="#121212"/><line x1="469.90" y1="487.59" x2="486.50" y2="487.59" stroke="#121212" stroke-width="1.0"/><line x1="478.20" y1="493.67" x2="478.20" y2="480.90" stroke="#121212" stroke-width="0.9"/><line x1="474.80" y1="493.67" x2="481.60" y2="493.67" stroke="#121212" stroke-width="0.9"/><line x1="474.80" y1="480.90" x2="481.60" y2="480.90" stroke="#121212" stroke-width="0.9"/><rect x="494.55" y="497.73" width="1.5" height="1.5" fill="#a6762c"/><rect x="496.15" y="497.73" width="1.5" height="1.5" fill="#a6762c"/><rect x="497.75" y="497.73" width="1.5" height="1.5" fill="#a6762c"/><rect x="499.35" y="497.73" width="1.5" height="1.5" fill="#a6762c"/><rect x="493.75" y="496.18" width="1.5" height="1.5" fill="#a6762c"/><rect x="495.35" y="496.18" width="1.5" height="1.5" fill="#a6762c"/><rect x="496.95" y="496.18" width="1.5" height="1.5" fill="#a6762c"/><rect x="498.55" y="496.18" width="1.5" height="1.5" fill="#a6762c"/><rect x="500.15" y="496.18" width="1.5" height="1.5" fill="#a6762c"/><rect x="492.15" y="494.63" width="1.5" height="1.5" fill="#a6762c"/><rect x="495.35" y="494.63" width="1.5" height="1.5" fill="#a6762c"/><rect x="496.95" y="494.63" width="1.5" height="1.5" fill="#a6762c"/><rect x="501.75" y="494.63" width="1.5" height="1.5" fill="#a6762c"/><rect x="493.75" y="493.08" width="1.5" height="1.5" fill="#a6762c"/><rect x="495.35" y="493.08" width="1.5" height="1.5" fill="#a6762c"/><rect x="496.95" y="493.08" width="1.5" height="1.5" fill="#a6762c"/><rect x="498.55" y="493.08" width="1.5" height="1.5" fill="#a6762c"/><rect x="500.15" y="493.08" width="1.5" height="1.5" fill="#a6762c"/><rect x="496.15" y="491.53" width="1.5" height="1.5" fill="#a6762c"/><rect x="497.75" y="491.53" width="1.5" height="1.5" fill="#a6762c"/><rect x="496.95" y="474.68" width="1.5" height="1.5" fill="#a6762c"/><rect x="496.95" y="481.98" width="1.5" height="1.5" fill="#a6762c"/><rect x="496.95" y="486.84" width="1.5" height="1.5" fill="#a6762c"/><rect x="496.95" y="489.88" width="1.5" height="1.5" fill="#a6762c"/><line x1="489.70" y1="496.10" x2="505.70" y2="496.10" stroke="#a6762c" stroke-width="1.0"/><rect x="516.45" y="478.33" width="1.5" height="1.5" fill="#18188c"/><rect x="516.45" y="480.76" width="1.5" height="1.5" fill="#18188c"/><rect x="515.65" y="491.71" width="1.5" height="1.5" fill="#18188c"/><rect x="517.25" y="491.71" width="1.5" height="1.5" fill="#18188c"/><rect x="516.45" y="496.57" width="1.5" height="1.5" fill="#18188c"/><rect x="516.45" y="497.30" width="1.5" height="1.5" fill="#18188c"/><line x1="509.20" y1="492.46" x2="525.20" y2="492.46" stroke="#18188c" stroke-width="1.0"/><line x1="517.20" y1="498.05" x2="517.20" y2="482.00" stroke="#18188c" stroke-width="0.9"/><line x1="513.80" y1="498.05" x2="520.60" y2="498.05" stroke="#18188c" stroke-width="0.9"/><line x1="513.80" y1="482.00" x2="520.60" y2="482.00" stroke="#18188c" stroke-width="0.9"/><rect x="535.95" y="499.00" width="1.5" height="1.5" fill="#7a1876"/><rect x="530.85" y="497.45" width="1.5" height="1.5" fill="#7a1876"/><rect x="532.55" y="497.45" width="1.5" height="1.5" fill="#7a1876"/><rect x="537.65" y="497.45" width="1.5" height="1.5" fill="#7a1876"/><rect x="539.35" y="497.45" width="1.5" height="1.5" fill="#7a1876"/><rect x="541.05" y="497.45" width="1.5" height="1.5" fill="#7a1876"/><rect x="533.40" y="495.90" width="1.5" height="1.5" fill="#7a1876"/><rect x="535.10" y="495.90" width="1.5" height="1.5" fill="#7a1876"/><rect x="536.80" y="495.90" width="1.5" height="1.5" fill="#7a1876"/><rect x="538.50" y="495.90" width="1.5" height="1.5" fill="#7a1876"/><rect x="540.20" y="495.90" width="1.5" height="1.5" fill="#7a1876"/><rect x="533.40" y="494.35" width="1.5" height="1.5" fill="#7a1876"/><rect x="535.10" y="494.35" width="1.5" height="1.5" fill="#7a1876"/><rect x="536.80" y="494.35" width="1.5" height="1.5" fill="#7a1876"/><rect x="532.55" y="492.80" width="1.5" height="1.5" fill="#7a1876"/><rect x="534.25" y="492.80" width="1.5" height="1.5" fill="#7a1876"/><rect x="537.65" y="492.80" width="1.5" height="1.5" fill="#7a1876"/><rect x="533.40" y="491.25" width="1.5" height="1.5" fill="#7a1876"/><rect x="535.10" y="491.25" width="1.5" height="1.5" fill="#7a1876"/><rect x="536.80" y="491.25" width="1.5" height="1.5" fill="#7a1876"/><rect x="538.50" y="491.25" width="1.5" height="1.5" fill="#7a1876"/><rect x="535.10" y="489.70" width="1.5" height="1.5" fill="#7a1876"/><rect x="536.80" y="489.70" width="1.5" height="1.5" fill="#7a1876"/><rect x="538.50" y="489.70" width="1.5" height="1.5" fill="#7a1876"/><rect x="535.10" y="488.15" width="1.5" height="1.5" fill="#7a1876"/><rect x="536.80" y="488.15" width="1.5" height="1.5" fill="#7a1876"/><rect x="538.50" y="488.15" width="1.5" height="1.5" fill="#7a1876"/><rect x="533.40" y="486.60" width="1.5" height="1.5" fill="#7a1876"/><rect x="536.80" y="486.60" width="1.5" height="1.5" fill="#7a1876"/><rect x="538.50" y="486.60" width="1.5" height="1.5" fill="#7a1876"/><rect x="532.55" y="485.05" width="1.5" height="1.5" fill="#7a1876"/><rect x="534.25" y="485.05" width="1.5" height="1.5" fill="#7a1876"/><rect x="535.95" y="485.05" width="1.5" height="1.5" fill="#7a1876"/><rect x="537.65" y="485.05" width="1.5" height="1.5" fill="#7a1876"/><rect x="539.35" y="485.05" width="1.5" height="1.5" fill="#7a1876"/><rect x="532.55" y="483.50" width="1.5" height="1.5" fill="#7a1876"/><rect x="535.95" y="483.50" width="1.5" height="1.5" fill="#7a1876"/><rect x="531.70" y="481.95" width="1.5" height="1.5" fill="#7a1876"/><rect x="533.40" y="481.95" width="1.5" height="1.5" fill="#7a1876"/><rect x="536.80" y="481.95" width="1.5" height="1.5" fill="#7a1876"/><rect x="533.40" y="480.40" width="1.5" height="1.5" fill="#7a1876"/><rect x="535.10" y="480.40" width="1.5" height="1.5" fill="#7a1876"/><rect x="536.80" y="480.40" width="1.5" height="1.5" fill="#7a1876"/><rect x="533.40" y="478.85" width="1.5" height="1.5" fill="#7a1876"/><rect x="535.10" y="478.85" width="1.5" height="1.5" fill="#7a1876"/><rect x="538.50" y="478.85" width="1.5" height="1.5" fill="#7a1876"/><rect x="534.25" y="477.30" width="1.5" height="1.5" fill="#7a1876"/><rect x="535.95" y="477.30" width="1.5" height="1.5" fill="#7a1876"/><rect x="537.65" y="477.30" width="1.5" height="1.5" fill="#7a1876"/><rect x="535.95" y="475.75" width="1.5" height="1.5" fill="#7a1876"/><rect x="535.95" y="417.53" width="1.5" height="1.5" fill="#7a1876"/><rect x="535.95" y="435.77" width="1.5" height="1.5" fill="#7a1876"/><rect x="535.95" y="441.85" width="1.5" height="1.5" fill="#7a1876"/><rect x="535.95" y="454.01" width="1.5" height="1.5" fill="#7a1876"/><rect x="535.10" y="456.44" width="1.5" height="1.5" fill="#7a1876"/><rect x="536.80" y="456.44" width="1.5" height="1.5" fill="#7a1876"/><rect x="535.95" y="457.66" width="1.5" height="1.5" fill="#7a1876"/><line x1="528.40" y1="488.32" x2="545.00" y2="488.32" stroke="#7a1876" stroke-width="1.0"/><rect x="553.85" y="502.29" width="1.5" height="1.5" fill="#c01212"/><rect x="555.45" y="502.29" width="1.5" height="1.5" fill="#c01212"/><rect x="557.05" y="502.29" width="1.5" height="1.5" fill="#c01212"/><rect x="553.05" y="500.74" width="1.5" height="1.5" fill="#c01212"/><rect x="554.65" y="500.74" width="1.5" height="1.5" fill="#c01212"/><rect x="556.25" y="500.74" width="1.5" height="1.5" fill="#c01212"/><rect x="557.85" y="500.74" width="1.5" height="1.5" fill="#c01212"/><rect x="550.65" y="499.19" width="1.5" height="1.5" fill="#c01212"/><rect x="552.25" y="499.19" width="1.5" height="1.5" fill="#c01212"/><rect x="553.85" y="499.19" width="1.5" height="1.5" fill="#c01212"/><rect x="555.45" y="499.19" width="1.5" height="1.5" fill="#c01212"/><rect x="557.05" y="499.19" width="1.5" height="1.5" fill="#c01212"/><rect x="558.65" y="499.19" width="1.5" height="1.5" fill="#c01212"/><rect x="560.25" y="499.19" width="1.5" height="1.5" fill="#c01212"/><rect x="547.45" y="497.64" width="1.5" height="1.5" fill="#c01212"/><rect x="549.05" y="497.64" width="1.5" height="1.5" fill="#c01212"/><rect x="552.25" y="497.64" width="1.5" height="1.5" fill="#c01212"/><rect x="553.85" y="497.64" width="1.5" height="1.5" fill="#c01212"/><rect x="555.45" y="497.64" width="1.5" height="1.5" fill="#c01212"/><rect x="557.05" y="497.64" width="1.5" height="1.5" fill="#c01212"/><rect x="558.65" y="497.64" width="1.5" height="1.5" fill="#c01212"/><rect x="560.25" y="497.64" width="1.5" height="1.5" fill="#c01212"/><rect x="563.45" y="497.64" width="1.5" height="1.5" fill="#c01212"/><rect x="550.65" y="496.09" width="1.5" height="1.5" fill="#c01212"/><rect x="552.25" y="496.09" width="1.5" height="1.5" fill="#c01212"/><rect x="555.45" y="496.09" width="1.5" height="1.5" fill="#c01212"/><rect x="557.05" y="496.09" width="1.5" height="1.5" fill="#c01212"/><rect x="558.65" y="496.09" width="1.5" height="1.5" fill="#c01212"/><rect x="560.25" y="496.09" width="1.5" height="1.5" fill="#c01212"/><rect x="561.85" y="496.09" width="1.5" height="1.5" fill="#c01212"/><rect x="563.45" y="496.09" width="1.5" height="1.5" fill="#c01212"/><rect x="547.45" y="494.54" width="1.5" height="1.5" fill="#c01212"/><rect x="549.05" y="494.54" width="1.5" height="1.5" fill="#c01212"/><rect x="550.65" y="494.54" width="1.5" height="1.5" fill="#c01212"/><rect x="552.25" y="494.54" width="1.5" height="1.5" fill="#c01212"/><rect x="553.85" y="494.54" width="1.5" height="1.5" fill="#c01212"/><rect x="555.45" y="494.54" width="1.5" height="1.5" fill="#c01212"/><rect x="557.05" y="494.54" width="1.5" height="1.5" fill="#c01212"/><rect x="558.65" y="494.54" width="1.5" height="1.5" fill="#c01212"/><rect x="560.25" y="494.54" width="1.5" height="1.5" fill="#c01212"/><rect x="561.85" y="494.54" width="1.5" height="1.5" fill="#c01212"/><rect x="563.45" y="494.54" width="1.5" height="1.5" fill="#c01212"/><rect x="549.05" y="492.99" width="1.5" height="1.5" fill="#c01212"/><rect x="550.65" y="492.99" width="1.5" height="1.5" fill="#c01212"/><rect x="552.25" y="492.99" width="1.5" height="1.5" fill="#c01212"/><rect x="553.85" y="492.99" width="1.5" height="1.5" fill="#c01212"/><rect x="555.45" y="492.99" width="1.5" height="1.5" fill="#c01212"/><rect x="557.05" y="492.99" width="1.5" height="1.5" fill="#c01212"/><rect x="558.65" y="492.99" width="1.5" height="1.5" fill="#c01212"/><rect x="560.25" y="492.99" width="1.5" height="1.5" fill="#c01212"/><rect x="561.85" y="492.99" width="1.5" height="1.5" fill="#c01212"/><rect x="551.45" y="491.44" width="1.5" height="1.5" fill="#c01212"/><rect x="553.05" y="491.44" width="1.5" height="1.5" fill="#c01212"/><rect x="554.65" y="491.44" width="1.5" height="1.5" fill="#c01212"/><rect x="556.25" y="491.44" width="1.5" height="1.5" fill="#c01212"/><rect x="557.85" y="491.44" width="1.5" height="1.5" fill="#c01212"/><rect x="559.45" y="491.44" width="1.5" height="1.5" fill="#c01212"/><rect x="552.25" y="489.89" width="1.5" height="1.5" fill="#c01212"/><rect x="553.85" y="489.89" width="1.5" height="1.5" fill="#c01212"/><rect x="555.45" y="489.89" width="1.5" height="1.5" fill="#c01212"/><rect x="557.05" y="489.89" width="1.5" height="1.5" fill="#c01212"/><rect x="558.65" y="489.89" width="1.5" height="1.5" fill="#c01212"/><rect x="553.05" y="488.34" width="1.5" height="1.5" fill="#c01212"/><rect x="554.65" y="488.34" width="1.5" height="1.5" fill="#c01212"/><rect x="556.25" y="488.34" width="1.5" height="1.5" fill="#c01212"/><rect x="557.85" y="488.34" width="1.5" height="1.5" fill="#c01212"/><rect x="554.65" y="486.79" width="1.5" height="1.5" fill="#c01212"/><rect x="556.25" y="486.79" width="1.5" height="1.5" fill="#c01212"/><rect x="557.85" y="486.79" width="1.5" height="1.5" fill="#c01212"/><rect x="554.65" y="485.24" width="1.5" height="1.5" fill="#c01212"/><rect x="556.25" y="485.24" width="1.5" height="1.5" fill="#c01212"/><rect x="554.65" y="483.69" width="1.5" height="1.5" fill="#c01212"/><rect x="556.25" y="483.69" width="1.5" height="1.5" fill="#c01212"/><rect x="554.65" y="482.14" width="1.5" height="1.5" fill="#c01212"/><rect x="556.25" y="482.14" width="1.5" height="1.5" fill="#c01212"/><rect x="553.85" y="480.59" width="1.5" height="1.5" fill="#c01212"/><rect x="555.45" y="480.59" width="1.5" height="1.5" fill="#c01212"/><rect x="557.05" y="480.59" width="1.5" height="1.5" fill="#c01212"/><rect x="553.85" y="479.04" width="1.5" height="1.5" fill="#c01212"/><rect x="555.45" y="479.04" width="1.5" height="1.5" fill="#c01212"/><rect x="557.05" y="479.04" width="1.5" height="1.5" fill="#c01212"/><rect x="555.45" y="477.49" width="1.5" height="1.5" fill="#c01212"/><rect x="555.45" y="475.94" width="1.5" height="1.5" fill="#c01212"/><rect x="555.45" y="474.39" width="1.5" height="1.5" fill="#c01212"/><rect x="555.45" y="472.84" width="1.5" height="1.5" fill="#c01212"/><rect x="555.45" y="471.29" width="1.5" height="1.5" fill="#c01212"/><rect x="555.45" y="469.74" width="1.5" height="1.5" fill="#c01212"/><rect x="555.45" y="465.09" width="1.5" height="1.5" fill="#c01212"/><rect x="555.45" y="405.37" width="1.5" height="1.5" fill="#c01212"/><rect x="555.45" y="406.59" width="1.5" height="1.5" fill="#c01212"/><rect x="555.45" y="412.67" width="1.5" height="1.5" fill="#c01212"/><rect x="555.45" y="427.26" width="1.5" height="1.5" fill="#c01212"/><rect x="555.45" y="436.99" width="1.5" height="1.5" fill="#c01212"/><line x1="547.90" y1="494.89" x2="564.50" y2="494.89" stroke="#c01212" stroke-width="1.0"/><rect x="574.95" y="502.04" width="1.5" height="1.5" fill="#107a14"/><rect x="573.35" y="500.49" width="1.5" height="1.5" fill="#107a14"/><rect x="574.95" y="500.49" width="1.5" height="1.5" fill="#107a14"/><rect x="573.35" y="498.94" width="1.5" height="1.5" fill="#107a14"/><rect x="574.95" y="498.94" width="1.5" height="1.5" fill="#107a14"/><rect x="576.55" y="498.94" width="1.5" height="1.5" fill="#107a14"/><rect x="569.35" y="497.39" width="1.5" height="1.5" fill="#107a14"/><rect x="570.95" y="497.39" width="1.5" height="1.5" fill="#107a14"/><rect x="572.55" y="497.39" width="1.5" height="1.5" fill="#107a14"/><rect x="574.15" y="497.39" width="1.5" height="1.5" fill="#107a14"/><rect x="577.35" y="497.39" width="1.5" height="1.5" fill="#107a14"/><rect x="578.95" y="497.39" width="1.5" height="1.5" fill="#107a14"/><rect x="580.55" y="497.39" width="1.5" height="1.5" fill="#107a14"/><rect x="568.55" y="495.84" width="1.5" height="1.5" fill="#107a14"/><rect x="573.35" y="495.84" width="1.5" height="1.5" fill="#107a14"/><rect x="574.95" y="495.84" width="1.5" height="1.5" fill="#107a14"/><rect x="576.55" y="495.84" width="1.5" height="1.5" fill="#107a14"/><rect x="578.15" y="495.84" width="1.5" height="1.5" fill="#107a14"/><rect x="579.75" y="495.84" width="1.5" height="1.5" fill="#107a14"/><rect x="581.35" y="495.84" width="1.5" height="1.5" fill="#107a14"/><rect x="570.15" y="494.29" width="1.5" height="1.5" fill="#107a14"/><rect x="573.35" y="494.29" width="1.5" height="1.5" fill="#107a14"/><rect x="576.55" y="494.29" width="1.5" height="1.5" fill="#107a14"/><rect x="578.15" y="494.29" width="1.5" height="1.5" fill="#107a14"/><rect x="579.75" y="494.29" width="1.5" height="1.5" fill="#107a14"/><rect x="571.75" y="492.74" width="1.5" height="1.5" fill="#107a14"/><rect x="573.35" y="492.74" width="1.5" height="1.5" fill="#107a14"/><rect x="576.55" y="492.74" width="1.5" height="1.5" fill="#107a14"/><rect x="578.15" y="492.74" width="1.5" height="1.5" fill="#107a14"/><rect x="570.15" y="491.19" width="1.5" height="1.5" fill="#107a14"/><rect x="571.75" y="491.19" width="1.5" height="1.5" fill="#107a14"/><rect x="573.35" y="491.19" width="1.5" height="1.5" fill="#107a14"/><rect x="574.95" y="491.19" width="1.5" height="1.5" fill="#107a14"/><rect x="576.55" y="491.19" width="1.5" height="1.5" fill="#107a14"/><rect x="578.15" y="491.19" width="1.5" height="1.5" fill="#107a14"/><rect x="570.95" y="489.64" width="1.5" height="1.5" fill="#107a14"/><rect x="572.55" y="489.64" width="1.5" height="1.5" fill="#107a14"/><rect x="574.15" y="489.64" width="1.5" height="1.5" fill="#107a14"/><rect x="577.35" y="489.64" width="1.5" height="1.5" fill="#107a14"/><rect x="578.95" y="489.64" width="1.5" height="1.5" fill="#107a14"/><rect x="573.35" y="488.09" width="1.5" height="1.5" fill="#107a14"/><rect x="574.95" y="488.09" width="1.5" height="1.5" fill="#107a14"/><rect x="576.55" y="488.09" width="1.5" height="1.5" fill="#107a14"/><rect x="578.15" y="488.09" width="1.5" height="1.5" fill="#107a14"/><rect x="572.55" y="486.54" width="1.5" height="1.5" fill="#107a14"/><rect x="574.15" y="486.54" width="1.5" height="1.5" fill="#107a14"/><rect x="575.75" y="486.54" width="1.5" height="1.5" fill="#107a14"/><rect x="577.35" y="486.54" width="1.5" height="1.5" fill="#107a14"/><rect x="578.95" y="486.54" width="1.5" height="1.5" fill="#107a14"/><rect x="572.55" y="484.99" width="1.5" height="1.5" fill="#107a14"/><rect x="574.15" y="484.99" width="1.5" height="1.5" fill="#107a14"/><rect x="575.75" y="484.99" width="1.5" height="1.5" fill="#107a14"/><rect x="577.35" y="484.99" width="1.5" height="1.5" fill="#107a14"/><rect x="574.15" y="483.44" width="1.5" height="1.5" fill="#107a14"/><rect x="575.75" y="483.44" width="1.5" height="1.5" fill="#107a14"/><rect x="577.35" y="483.44" width="1.5" height="1.5" fill="#107a14"/><rect x="571.75" y="481.89" width="1.5" height="1.5" fill="#107a14"/><rect x="573.35" y="481.89" width="1.5" height="1.5" fill="#107a14"/><rect x="574.95" y="481.89" width="1.5" height="1.5" fill="#107a14"/><rect x="576.55" y="481.89" width="1.5" height="1.5" fill="#107a14"/><rect x="578.15" y="481.89" width="1.5" height="1.5" fill="#107a14"/><rect x="571.75" y="480.34" width="1.5" height="1.5" fill="#107a14"/><rect x="573.35" y="480.34" width="1.5" height="1.5" fill="#107a14"/><rect x="576.55" y="480.34" width="1.5" height="1.5" fill="#107a14"/><rect x="578.15" y="480.34" width="1.5" height="1.5" fill="#107a14"/><rect x="570.95" y="478.79" width="1.5" height="1.5" fill="#107a14"/><rect x="572.55" y="478.79" width="1.5" height="1.5" fill="#107a14"/><rect x="574.15" y="478.79" width="1.5" height="1.5" fill="#107a14"/><rect x="575.75" y="478.79" width="1.5" height="1.5" fill="#107a14"/><rect x="572.55" y="477.24" width="1.5" height="1.5" fill="#107a14"/><rect x="574.15" y="477.24" width="1.5" height="1.5" fill="#107a14"/><rect x="577.35" y="477.24" width="1.5" height="1.5" fill="#107a14"/><rect x="573.35" y="475.69" width="1.5" height="1.5" fill="#107a14"/><rect x="576.55" y="475.69" width="1.5" height="1.5" fill="#107a14"/><rect x="574.95" y="474.14" width="1.5" height="1.5" fill="#107a14"/><rect x="574.95" y="472.59" width="1.5" height="1.5" fill="#107a14"/><rect x="574.95" y="471.04" width="1.5" height="1.5" fill="#107a14"/><rect x="574.95" y="469.49" width="1.5" height="1.5" fill="#107a14"/><rect x="574.95" y="466.39" width="1.5" height="1.5" fill="#107a14"/><rect x="574.95" y="464.84" width="1.5" height="1.5" fill="#107a14"/><rect x="574.95" y="417.53" width="1.5" height="1.5" fill="#107a14"/><rect x="574.95" y="435.77" width="1.5" height="1.5" fill="#107a14"/><rect x="574.95" y="436.99" width="1.5" height="1.5" fill="#107a14"/><rect x="574.95" y="441.85" width="1.5" height="1.5" fill="#107a14"/><rect x="574.95" y="456.44" width="1.5" height="1.5" fill="#107a14"/><rect x="574.95" y="457.66" width="1.5" height="1.5" fill="#107a14"/><line x1="567.40" y1="489.54" x2="584.00" y2="489.54" stroke="#107a14" stroke-width="1.0"/><rect x="592.75" y="502.04" width="1.5" height="1.5" fill="#f6b273"/><rect x="594.45" y="502.04" width="1.5" height="1.5" fill="#f6b273"/><rect x="596.15" y="502.04" width="1.5" height="1.5" fill="#f6b273"/><rect x="592.75" y="500.49" width="1.5" height="1.5" fill="#f6b273"/><rect x="596.15" y="500.49" width="1.5" height="1.5" fill="#f6b273"/><rect x="591.05" y="498.94" width="1.5" height="1.5" fill="#f6b273"/><rect x="592.75" y="498.94" width="1.5" height="1.5" fill="#f6b273"/><rect x="594.45" y="498.94" width="1.5" height="1.5" fill="#f6b273"/><rect x="596.15" y="498.94" width="1.5" height="1.5" fill="#f6b273"/><rect x="588.50" y="497.39" width="1.5" height="1.5" fill="#f6b273"/><rect x="590.20" y="497.39" width="1.5" height="1.5" fill="#f6b273"/><rect x="593.60" y="497.39" width="1.5" height="1.5" fill="#f6b273"/><rect x="595.30" y="497.39" width="1.5" height="1.5" fill="#f6b273"/><rect x="597.00" y="497.39" width="1.5" height="1.5" fill="#f6b273"/><rect x="598.70" y="497.39" width="1.5" height="1.5" fill="#f6b273"/><rect x="600.40" y="497.39" width="1.5" height="1.5" fill="#f6b273"/><rect x="588.50" y="495.84" width="1.5" height="1.5" fill="#f6b273"/><rect x="590.20" y="495.84" width="1.5" height="1.5" fill="#f6b273"/><rect x="591.90" y="495.84" width="1.5" height="1.5" fill="#f6b273"/><rect x="593.60" y="495.84" width="1.5" height="1.5" fill="#f6b273"/><rect x="595.30" y="495.84" width="1.5" height="1.5" fill="#f6b273"/><rect x="598.70" y="495.84" width="1.5" height="1.5" fill="#f6b273"/><rect x="600.40" y="495.84" width="1.5" height="1.5" fill="#f6b273"/><rect x="587.65" y="494.29" width="1.5" height="1.5" fill="#f6b273"/><rect x="589.35" y="494.29" width="1.5" height="1.5" fill="#f6b273"/><rect x="592.75" y="494.29" width="1.5" height="1.5" fill="#f6b273"/><rect x="594.45" y="494.29" width="1.5" height="1.5" fill="#f6b273"/><rect x="601.25" y="494.29" width="1.5" height="1.5" fill="#f6b273"/><rect x="587.65" y="492.74" width="1.5" height="1.5" fill="#f6b273"/><rect x="589.35" y="492.74" width="1.5" height="1.5" fill="#f6b273"/><rect x="591.05" y="492.74" width="1.5" height="1.5" fill="#f6b273"/><rect x="592.75" y="492.74" width="1.5" height="1.5" fill="#f6b273"/><rect x="596.15" y="492.74" width="1.5" height="1.5" fill="#f6b273"/><rect x="599.55" y="492.74" width="1.5" height="1.5" fill="#f6b273"/><rect x="601.25" y="492.74" width="1.5" height="1.5" fill="#f6b273"/><rect x="590.20" y="491.19" width="1.5" height="1.5" fill="#f6b273"/><rect x="593.60" y="491.19" width="1.5" height="1.5" fill="#f6b273"/><rect x="595.30" y="491.19" width="1.5" height="1.5" fill="#f6b273"/><rect x="597.00" y="491.19" width="1.5" height="1.5" fill="#f6b273"/><rect x="598.70" y="491.19" width="1.5" height="1.5" fill="#f6b273"/><rect x="591.90" y="489.64" width="1.5" height="1.5" fill="#f6b273"/><rect x="595.30" y="489.64" width="1.5" height="1.5" fill="#f6b273"/><rect x="591.90" y="488.09" width="1.5" height="1.5" fill="#f6b273"/><rect x="595.30" y="488.09" width="1.5" height="1.5" fill="#f6b273"/><rect x="594.45" y="486.54" width="1.5" height="1.5" fill="#f6b273"/><rect x="596.15" y="486.54" width="1.5" height="1.5" fill="#f6b273"/><rect x="591.90" y="484.99" width="1.5" height="1.5" fill="#f6b273"/><rect x="593.60" y="484.99" width="1.5" height="1.5" fill="#f6b273"/><rect x="595.30" y="484.99" width="1.5" height="1.5" fill="#f6b273"/><rect x="597.00" y="484.99" width="1.5" height="1.5" fill="#f6b273"/><rect x="591.90" y="483.44" width="1.5" height="1.5" fill="#f6b273"/><rect x="597.00" y="483.44" width="1.5" height="1.5" fill="#f6b273"/><rect x="592.75" y="481.89" width="1.5" height="1.5" fill="#f6b273"/><rect x="594.45" y="481.89" width="1.5" height="1.5" fill="#f6b273"/><rect x="593.60" y="480.34" width="1.5" height="1.5" fill="#f6b273"/><rect x="595.30" y="480.34" width="1.5" height="1.5" fill="#f6b273"/><rect x="592.75" y="478.79" width="1.5" height="1.5" fill="#f6b273"/><rect x="594.45" y="478.79" width="1.5" height="1.5" fill="#f6b273"/><rect x="596.15" y="478.79" width="1.5" height="1.5" fill="#f6b273"/><rect x="594.45" y="477.24" width="1.5" height="1.5" fill="#f6b273"/><rect x="594.45" y="475.69" width="1.5" height="1.5" fill="#f6b273"/><rect x="594.45" y="474.14" width="1.5" height="1.5" fill="#f6b273"/><rect x="594.45" y="471.04" width="1.5" height="1.5" fill="#f6b273"/><rect x="594.45" y="469.49" width="1.5" height="1.5" fill="#f6b273"/><rect x="594.45" y="467.94" width="1.5" height="1.5" fill="#f6b273"/><rect x="594.45" y="466.39" width="1.5" height="1.5" fill="#f6b273"/><rect x="594.45" y="405.37" width="1.5" height="1.5" fill="#f6b273"/><rect x="594.45" y="412.67" width="1.5" height="1.5" fill="#f6b273"/><rect x="594.45" y="427.26" width="1.5" height="1.5" fill="#f6b273"/><line x1="586.90" y1="494.89" x2="603.50" y2="494.89" stroke="#f6b273" stroke-width="1.0"/><line x1="367.5" y1="380.8" x2="367.5" y2="504.2" stroke="#000000" stroke-width="1.6"/><line x1="366.7" y1="503.4" x2="608.3" y2="503.4" stroke="#000000" stroke-width="1.6"/><line x1="364.10" y1="503.40" x2="367.5" y2="503.40" stroke="#000000" stroke-width="0.6"/><line x1="365.40" y1="498.54" x2="367.5" y2="498.54" stroke="#000000" stroke-width="0.6"/><line x1="365.40" y1="493.67" x2="367.5" y2="493.67" stroke="#000000" stroke-width="0.6"/><line x1="365.40" y1="488.81" x2="367.5" y2="488.81" stroke="#000000" stroke-width="0.6"/><line x1="365.40" y1="483.94" x2="367.5" y2="483.94" stroke="#000000" stroke-width="0.6"/><line x1="364.10" y1="479.08" x2="367.5" y2="479.08" stroke="#000000" stroke-width="0.6"/><line x1="365.40" y1="474.22" x2="367.5" y2="474.22" stroke="#000000" stroke-width="0.6"/><line x1="365.40" y1="469.35" x2="367.5" y2="469.35" stroke="#000000" stroke-width="0.6"/><line x1="365.40" y1="464.49" x2="367.5" y2="464.49" stroke="#000000" stroke-width="0.6"/><line x1="365.40" y1="459.62" x2="367.5" y2="459.62" stroke="#000000" stroke-width="0.6"/><line x1="364.10" y1="454.76" x2="367.5" y2="454.76" stroke="#000000" stroke-width="0.6"/><line x1="365.40" y1="449.90" x2="367.5" y2="449.90" stroke="#000000" stroke-width="0.6"/><line x1="365.40" y1="445.03" x2="367.5" y2="445.03" stroke="#000000" stroke-width="0.6"/><line x1="365.40" y1="440.17" x2="367.5" y2="440.17" stroke="#000000" stroke-width="0.6"/><line x1="365.40" y1="435.30" x2="367.5" y2="435.30" stroke="#000000" stroke-width="0.6"/><line x1="364.10" y1="430.44" x2="367.5" y2="430.44" stroke="#000000" stroke-width="0.6"/><line x1="365.40" y1="425.58" x2="367.5" y2="425.58" stroke="#000000" stroke-width="0.6"/><line x1="365.40" y1="420.71" x2="367.5" y2="420.71" stroke="#000000" stroke-width="0.6"/><line x1="365.40" y1="415.85" x2="367.5" y2="415.85" stroke="#000000" stroke-width="0.6"/><line x1="365.40" y1="410.98" x2="367.5" y2="410.98" stroke="#000000" stroke-width="0.6"/><line x1="364.10" y1="406.12" x2="367.5" y2="406.12" stroke="#000000" stroke-width="0.6"/><line x1="365.40" y1="401.26" x2="367.5" y2="401.26" stroke="#000000" stroke-width="0.6"/><line x1="365.40" y1="396.39" x2="367.5" y2="396.39" stroke="#000000" stroke-width="0.6"/><line x1="365.40" y1="391.53" x2="367.5" y2="391.53" stroke="#000000" stroke-width="0.6"/><line x1="365.40" y1="386.66" x2="367.5" y2="386.66" stroke="#000000" stroke-width="0.6"/><line x1="364.10" y1="381.80" x2="367.5" y2="381.80" stroke="#000000" stroke-width="0.6"/><line x1="380.70" y1="503.4" x2="380.70" y2="506.0" stroke="#000000" stroke-width="0.7"/><line x1="400.20" y1="503.4" x2="400.20" y2="506.0" stroke="#000000" stroke-width="0.7"/><line x1="419.70" y1="503.4" x2="419.70" y2="506.0" stroke="#000000" stroke-width="0.7"/><line x1="439.20" y1="503.4" x2="439.20" y2="506.0" stroke="#000000" stroke-width="0.7"/><line x1="458.70" y1="503.4" x2="458.70" y2="506.0" stroke="#000000" stroke-width="0.7"/><line x1="478.20" y1="503.4" x2="478.20" y2="506.0" stroke="#000000" stroke-width="0.7"/><line x1="497.70" y1="503.4" x2="497.70" y2="506.0" stroke="#000000" stroke-width="0.7"/><line x1="517.20" y1="503.4" x2="517.20" y2="506.0" stroke="#000000" stroke-width="0.7"/><line x1="536.70" y1="503.4" x2="536.70" y2="506.0" stroke="#000000" stroke-width="0.7"/><line x1="556.20" y1="503.4" x2="556.20" y2="506.0" stroke="#000000" stroke-width="0.7"/><line x1="575.70" y1="503.4" x2="575.70" y2="506.0" stroke="#000000" stroke-width="0.7"/><line x1="595.20" y1="503.4" x2="595.20" y2="506.0" stroke="#000000" stroke-width="0.7"/><text x="363.30" y="504.70" font-size="3.8" text-anchor="end" fill="#222" font-family="Liberation Sans, sans-serif">0</text><text x="363.30" y="480.38" font-size="3.8" text-anchor="end" fill="#222" font-family="Liberation Sans, sans-serif">20</text><text x="363.30" y="456.06" font-size="3.8" text-anchor="end" fill="#222" font-family="Liberation Sans, sans-serif">40</text><text x="363.30" y="431.74" font-size="3.8" text-anchor="end" fill="#222" font-family="Liberation Sans, sans-serif">60</text><text x="363.30" y="407.42" font-size="3.8" text-anchor="end" fill="#222" font-family="Liberation Sans, sans-serif">80</text><text x="363.30" y="383.10" font-size="3.8" text-anchor="end" fill="#222" font-family="Liberation Sans, sans-serif">100</text><text transform="translate(352.5,448.6) rotate(-90)" font-size="3" text-anchor="middle" fill="#333" font-family="Liberation Sans, sans-serif">Disease free survival (months)</text><text transform="translate(381.90,509.00) rotate(-30)" font-size="3.9" font-weight="normal" text-anchor="end" fill="#262626" stroke="#262626" stroke-width="0.12" font-family="Liberation Sans, sans-serif">All patients</text><text transform="translate(401.40,509.00) rotate(-30)" font-size="3.9" font-weight="normal" text-anchor="end" fill="#262626" stroke="#262626" stroke-width="0.12" font-family="Liberation Sans, sans-serif">Intrathoracic recurrence</text><text transform="translate(420.90,509.00) rotate(-30)" font-size="3.9" font-weight="normal" text-anchor="end" fill="#262626" stroke="#262626" stroke-width="0.12" font-family="Liberation Sans, sans-serif">Extra-thoracic recurrence</text><text transform="translate(440.40,509.00) rotate(-30)" font-size="3.9" font-weight="normal" text-anchor="end" fill="#262626" stroke="#262626" stroke-width="0.12" font-family="Liberation Sans, sans-serif">Hematogenous metastasis</text><text transform="translate(459.90,509.00) rotate(-30)" font-size="3.9" font-weight="normal" text-anchor="end" fill="#262626" stroke="#262626" stroke-width="0.12" font-family="Liberation Sans, sans-serif">Lymphatic metastasis</text><text transform="translate(479.40,509.00) rotate(-30)" font-size="3.9" font-weight="normal" text-anchor="end" fill="#262626" stroke="#262626" stroke-width="0.12" font-family="Liberation Sans, sans-serif">Brain metastasis</text><text transform="translate(498.90,509.00) rotate(-30)" font-size="3.9" font-weight="normal" text-anchor="end" fill="#262626" stroke="#262626" stroke-width="0.12" font-family="Liberation Sans, sans-serif">Bone metastasis</text><text transform="translate(518.40,509.00) rotate(-30)" font-size="3.9" font-weight="normal" text-anchor="end" fill="#262626" stroke="#262626" stroke-width="0.12" font-family="Liberation Sans, sans-serif">Liver metastasis</text><text transform="translate(537.90,509.00) rotate(-30)" font-size="3.9" font-weight="normal" text-anchor="end" fill="#262626" stroke="#262626" stroke-width="0.12" font-family="Liberation Sans, sans-serif">Single p-N2</text><text transform="translate(557.40,509.00) rotate(-30)" font-size="3.9" font-weight="normal" text-anchor="end" fill="#262626" stroke="#262626" stroke-width="0.12" font-family="Liberation Sans, sans-serif">Multiple p-N2</text><text transform="translate(576.90,509.00) rotate(-30)" font-size="3.9" font-weight="normal" text-anchor="end" fill="#262626" stroke="#262626" stroke-width="0.12" font-family="Liberation Sans, sans-serif">Single-station p-N2</text><text transform="translate(596.40,509.00) rotate(-30)" font-size="3.9" font-weight="normal" text-anchor="end" fill="#262626" stroke="#262626" stroke-width="0.12" font-family="Liberation Sans, sans-serif">Multiple-station p-N2</text></svg>
<svg class="a" style="left:0;top:0" width="960" height="540" viewBox="0 0 960 540"><circle cx="707.40" cy="322.37" r="0.58" fill="none" stroke="#3a55e8" stroke-width="0.48"/><circle cx="704.40" cy="320.52" r="0.58" fill="none" stroke="#3a55e8" stroke-width="0.48"/><circle cx="706.40" cy="320.52" r="0.58" fill="none" stroke="#3a55e8" stroke-width="0.48"/><circle cx="708.40" cy="320.52" r="0.58" fill="none" stroke="#3a55e8" stroke-width="0.48"/><circle cx="710.40" cy="320.52" r="0.58" fill="none" stroke="#3a55e8" stroke-width="0.48"/><circle cx="703.40" cy="318.67" r="0.58" fill="none" stroke="#3a55e8" stroke-width="0.48"/><circle cx="705.40" cy="318.67" r="0.58" fill="none" stroke="#3a55e8" stroke-width="0.48"/><circle cx="707.40" cy="318.67" r="0.58" fill="none" stroke="#3a55e8" stroke-width="0.48"/><circle cx="709.40" cy="318.67" r="0.58" fill="none" stroke="#3a55e8" stroke-width="0.48"/><circle cx="711.40" cy="318.67" r="0.58" fill="none" stroke="#3a55e8" stroke-width="0.48"/><circle cx="704.40" cy="316.82" r="0.58" fill="none" stroke="#3a55e8" stroke-width="0.48"/><circle cx="706.40" cy="316.82" r="0.58" fill="none" stroke="#3a55e8" stroke-width="0.48"/><circle cx="708.40" cy="316.82" r="0.58" fill="none" stroke="#3a55e8" stroke-width="0.48"/><circle cx="710.40" cy="316.82" r="0.58" fill="none" stroke="#3a55e8" stroke-width="0.48"/><circle cx="712.40" cy="316.82" r="0.58" fill="none" stroke="#3a55e8" stroke-width="0.48"/><circle cx="702.40" cy="314.97" r="0.58" fill="none" stroke="#3a55e8" stroke-width="0.48"/><circle cx="708.40" cy="314.97" r="0.58" fill="none" stroke="#3a55e8" stroke-width="0.48"/><circle cx="710.40" cy="314.97" r="0.58" fill="none" stroke="#3a55e8" stroke-width="0.48"/><circle cx="712.40" cy="314.97" r="0.58" fill="none" stroke="#3a55e8" stroke-width="0.48"/><circle cx="702.40" cy="313.12" r="0.58" fill="none" stroke="#3a55e8" stroke-width="0.48"/><circle cx="704.40" cy="313.12" r="0.58" fill="none" stroke="#3a55e8" stroke-width="0.48"/><circle cx="706.40" cy="313.12" r="0.58" fill="none" stroke="#3a55e8" stroke-width="0.48"/><circle cx="708.40" cy="313.12" r="0.58" fill="none" stroke="#3a55e8" stroke-width="0.48"/><circle cx="710.40" cy="313.12" r="0.58" fill="none" stroke="#3a55e8" stroke-width="0.48"/><circle cx="712.40" cy="313.12" r="0.58" fill="none" stroke="#3a55e8" stroke-width="0.48"/><circle cx="702.40" cy="311.27" r="0.58" fill="none" stroke="#3a55e8" stroke-width="0.48"/><circle cx="704.40" cy="311.27" r="0.58" fill="none" stroke="#3a55e8" stroke-width="0.48"/><circle cx="706.40" cy="311.27" r="0.58" fill="none" stroke="#3a55e8" stroke-width="0.48"/><circle cx="708.40" cy="311.27" r="0.58" fill="none" stroke="#3a55e8" stroke-width="0.48"/><circle cx="710.40" cy="311.27" r="0.58" fill="none" stroke="#3a55e8" stroke-width="0.48"/><circle cx="712.40" cy="311.27" r="0.58" fill="none" stroke="#3a55e8" stroke-width="0.48"/><circle cx="702.40" cy="309.42" r="0.58" fill="none" stroke="#3a55e8" stroke-width="0.48"/><circle cx="704.40" cy="309.42" r="0.58" fill="none" stroke="#3a55e8" stroke-width="0.48"/><circle cx="706.40" cy="309.42" r="0.58" fill="none" stroke="#3a55e8" stroke-width="0.48"/><circle cx="710.40" cy="309.42" r="0.58" fill="none" stroke="#3a55e8" stroke-width="0.48"/><circle cx="701.40" cy="307.57" r="0.58" fill="none" stroke="#3a55e8" stroke-width="0.48"/><circle cx="705.40" cy="307.57" r="0.58" fill="none" stroke="#3a55e8" stroke-width="0.48"/><circle cx="707.40" cy="307.57" r="0.58" fill="none" stroke="#3a55e8" stroke-width="0.48"/><circle cx="709.40" cy="307.57" r="0.58" fill="none" stroke="#3a55e8" stroke-width="0.48"/><circle cx="713.40" cy="307.57" r="0.58" fill="none" stroke="#3a55e8" stroke-width="0.48"/><circle cx="702.40" cy="305.72" r="0.58" fill="none" stroke="#3a55e8" stroke-width="0.48"/><circle cx="704.40" cy="305.72" r="0.58" fill="none" stroke="#3a55e8" stroke-width="0.48"/><circle cx="706.40" cy="305.72" r="0.58" fill="none" stroke="#3a55e8" stroke-width="0.48"/><circle cx="712.40" cy="305.72" r="0.58" fill="none" stroke="#3a55e8" stroke-width="0.48"/><circle cx="703.40" cy="303.87" r="0.58" fill="none" stroke="#3a55e8" stroke-width="0.48"/><circle cx="705.40" cy="303.87" r="0.58" fill="none" stroke="#3a55e8" stroke-width="0.48"/><circle cx="707.40" cy="303.87" r="0.58" fill="none" stroke="#3a55e8" stroke-width="0.48"/><circle cx="709.40" cy="303.87" r="0.58" fill="none" stroke="#3a55e8" stroke-width="0.48"/><circle cx="703.40" cy="302.02" r="0.58" fill="none" stroke="#3a55e8" stroke-width="0.48"/><circle cx="705.40" cy="302.02" r="0.58" fill="none" stroke="#3a55e8" stroke-width="0.48"/><circle cx="709.40" cy="302.02" r="0.58" fill="none" stroke="#3a55e8" stroke-width="0.48"/><circle cx="711.40" cy="302.02" r="0.58" fill="none" stroke="#3a55e8" stroke-width="0.48"/><circle cx="705.40" cy="300.17" r="0.58" fill="none" stroke="#3a55e8" stroke-width="0.48"/><circle cx="707.40" cy="300.17" r="0.58" fill="none" stroke="#3a55e8" stroke-width="0.48"/><circle cx="711.40" cy="300.17" r="0.58" fill="none" stroke="#3a55e8" stroke-width="0.48"/><circle cx="705.40" cy="298.32" r="0.58" fill="none" stroke="#3a55e8" stroke-width="0.48"/><circle cx="705.40" cy="296.47" r="0.58" fill="none" stroke="#3a55e8" stroke-width="0.48"/><circle cx="707.40" cy="296.47" r="0.58" fill="none" stroke="#3a55e8" stroke-width="0.48"/><circle cx="709.40" cy="296.47" r="0.58" fill="none" stroke="#3a55e8" stroke-width="0.48"/><circle cx="707.40" cy="294.62" r="0.58" fill="none" stroke="#3a55e8" stroke-width="0.48"/><circle cx="709.40" cy="294.62" r="0.58" fill="none" stroke="#3a55e8" stroke-width="0.48"/><circle cx="707.40" cy="292.77" r="0.58" fill="none" stroke="#3a55e8" stroke-width="0.48"/><circle cx="709.40" cy="292.77" r="0.58" fill="none" stroke="#3a55e8" stroke-width="0.48"/><circle cx="706.40" cy="290.92" r="0.58" fill="none" stroke="#3a55e8" stroke-width="0.48"/><circle cx="708.40" cy="290.92" r="0.58" fill="none" stroke="#3a55e8" stroke-width="0.48"/><circle cx="707.40" cy="289.07" r="0.58" fill="none" stroke="#3a55e8" stroke-width="0.48"/><circle cx="707.40" cy="287.22" r="0.58" fill="none" stroke="#3a55e8" stroke-width="0.48"/><circle cx="707.40" cy="285.37" r="0.58" fill="none" stroke="#3a55e8" stroke-width="0.48"/><circle cx="705.40" cy="283.52" r="0.58" fill="none" stroke="#3a55e8" stroke-width="0.48"/><circle cx="707.40" cy="283.52" r="0.58" fill="none" stroke="#3a55e8" stroke-width="0.48"/><circle cx="709.40" cy="283.52" r="0.58" fill="none" stroke="#3a55e8" stroke-width="0.48"/><circle cx="707.40" cy="279.82" r="0.58" fill="none" stroke="#3a55e8" stroke-width="0.48"/><circle cx="705.40" cy="277.97" r="0.58" fill="none" stroke="#3a55e8" stroke-width="0.48"/><circle cx="707.40" cy="277.97" r="0.58" fill="none" stroke="#3a55e8" stroke-width="0.48"/><circle cx="709.40" cy="277.97" r="0.58" fill="none" stroke="#3a55e8" stroke-width="0.48"/><circle cx="707.40" cy="276.12" r="0.58" fill="none" stroke="#3a55e8" stroke-width="0.48"/><circle cx="707.40" cy="272.42" r="0.58" fill="none" stroke="#3a55e8" stroke-width="0.48"/><circle cx="707.40" cy="212.63" r="0.58" fill="none" stroke="#3a55e8" stroke-width="0.48"/><circle cx="707.40" cy="223.73" r="0.58" fill="none" stroke="#3a55e8" stroke-width="0.48"/><circle cx="707.40" cy="244.69" r="0.58" fill="none" stroke="#3a55e8" stroke-width="0.48"/><circle cx="706.40" cy="249.62" r="0.58" fill="none" stroke="#3a55e8" stroke-width="0.48"/><circle cx="708.40" cy="249.62" r="0.58" fill="none" stroke="#3a55e8" stroke-width="0.48"/><circle cx="707.40" cy="248.39" r="0.58" fill="none" stroke="#3a55e8" stroke-width="0.48"/><line x1="699.10" y1="306.96" x2="715.70" y2="306.96" stroke="#3a55e8" stroke-width="0.75"/><circle cx="727.05" cy="322.98" r="0.58" fill="none" stroke="#e8503e" stroke-width="0.48"/><circle cx="727.05" cy="319.28" r="0.58" fill="none" stroke="#e8503e" stroke-width="0.48"/><circle cx="725.05" cy="317.43" r="0.58" fill="none" stroke="#e8503e" stroke-width="0.48"/><circle cx="728.05" cy="315.58" r="0.58" fill="none" stroke="#e8503e" stroke-width="0.48"/><circle cx="723.05" cy="313.73" r="0.58" fill="none" stroke="#e8503e" stroke-width="0.48"/><circle cx="727.05" cy="313.73" r="0.58" fill="none" stroke="#e8503e" stroke-width="0.48"/><circle cx="729.05" cy="313.73" r="0.58" fill="none" stroke="#e8503e" stroke-width="0.48"/><circle cx="723.05" cy="311.88" r="0.58" fill="none" stroke="#e8503e" stroke-width="0.48"/><circle cx="727.05" cy="311.88" r="0.58" fill="none" stroke="#e8503e" stroke-width="0.48"/><circle cx="729.05" cy="311.88" r="0.58" fill="none" stroke="#e8503e" stroke-width="0.48"/><circle cx="723.05" cy="310.03" r="0.58" fill="none" stroke="#e8503e" stroke-width="0.48"/><circle cx="725.05" cy="310.03" r="0.58" fill="none" stroke="#e8503e" stroke-width="0.48"/><circle cx="727.05" cy="310.03" r="0.58" fill="none" stroke="#e8503e" stroke-width="0.48"/><circle cx="729.05" cy="310.03" r="0.58" fill="none" stroke="#e8503e" stroke-width="0.48"/><circle cx="731.05" cy="310.03" r="0.58" fill="none" stroke="#e8503e" stroke-width="0.48"/><circle cx="723.05" cy="308.18" r="0.58" fill="none" stroke="#e8503e" stroke-width="0.48"/><circle cx="727.05" cy="308.18" r="0.58" fill="none" stroke="#e8503e" stroke-width="0.48"/><circle cx="731.05" cy="308.18" r="0.58" fill="none" stroke="#e8503e" stroke-width="0.48"/><circle cx="724.05" cy="306.33" r="0.58" fill="none" stroke="#e8503e" stroke-width="0.48"/><circle cx="726.05" cy="306.33" r="0.58" fill="none" stroke="#e8503e" stroke-width="0.48"/><circle cx="728.05" cy="306.33" r="0.58" fill="none" stroke="#e8503e" stroke-width="0.48"/><circle cx="730.05" cy="306.33" r="0.58" fill="none" stroke="#e8503e" stroke-width="0.48"/><circle cx="724.05" cy="304.48" r="0.58" fill="none" stroke="#e8503e" stroke-width="0.48"/><circle cx="728.05" cy="304.48" r="0.58" fill="none" stroke="#e8503e" stroke-width="0.48"/><circle cx="730.05" cy="304.48" r="0.58" fill="none" stroke="#e8503e" stroke-width="0.48"/><circle cx="724.05" cy="302.63" r="0.58" fill="none" stroke="#e8503e" stroke-width="0.48"/><circle cx="726.05" cy="302.63" r="0.58" fill="none" stroke="#e8503e" stroke-width="0.48"/><circle cx="728.05" cy="302.63" r="0.58" fill="none" stroke="#e8503e" stroke-width="0.48"/><circle cx="730.05" cy="302.63" r="0.58" fill="none" stroke="#e8503e" stroke-width="0.48"/><circle cx="729.05" cy="300.78" r="0.58" fill="none" stroke="#e8503e" stroke-width="0.48"/><circle cx="725.05" cy="298.93" r="0.58" fill="none" stroke="#e8503e" stroke-width="0.48"/><circle cx="729.05" cy="298.93" r="0.58" fill="none" stroke="#e8503e" stroke-width="0.48"/><circle cx="726.05" cy="297.08" r="0.58" fill="none" stroke="#e8503e" stroke-width="0.48"/><circle cx="728.05" cy="297.08" r="0.58" fill="none" stroke="#e8503e" stroke-width="0.48"/><circle cx="725.05" cy="295.23" r="0.58" fill="none" stroke="#e8503e" stroke-width="0.48"/><circle cx="727.05" cy="295.23" r="0.58" fill="none" stroke="#e8503e" stroke-width="0.48"/><circle cx="729.05" cy="295.23" r="0.58" fill="none" stroke="#e8503e" stroke-width="0.48"/><circle cx="727.05" cy="293.38" r="0.58" fill="none" stroke="#e8503e" stroke-width="0.48"/><circle cx="727.05" cy="291.53" r="0.58" fill="none" stroke="#e8503e" stroke-width="0.48"/><circle cx="727.05" cy="289.68" r="0.58" fill="none" stroke="#e8503e" stroke-width="0.48"/><circle cx="727.05" cy="287.83" r="0.58" fill="none" stroke="#e8503e" stroke-width="0.48"/><circle cx="727.05" cy="285.98" r="0.58" fill="none" stroke="#e8503e" stroke-width="0.48"/><circle cx="727.05" cy="280.43" r="0.58" fill="none" stroke="#e8503e" stroke-width="0.48"/><circle cx="727.05" cy="276.73" r="0.58" fill="none" stroke="#e8503e" stroke-width="0.48"/><circle cx="727.05" cy="212.63" r="0.58" fill="none" stroke="#e8503e" stroke-width="0.48"/><circle cx="727.05" cy="223.73" r="0.58" fill="none" stroke="#e8503e" stroke-width="0.48"/><circle cx="727.05" cy="244.69" r="0.58" fill="none" stroke="#e8503e" stroke-width="0.48"/><circle cx="726.05" cy="249.62" r="0.58" fill="none" stroke="#e8503e" stroke-width="0.48"/><circle cx="728.05" cy="249.62" r="0.58" fill="none" stroke="#e8503e" stroke-width="0.48"/><line x1="718.75" y1="306.96" x2="735.35" y2="306.96" stroke="#e8503e" stroke-width="0.75"/><circle cx="746.70" cy="322.37" r="0.58" fill="none" stroke="#30c048" stroke-width="0.48"/><circle cx="746.70" cy="320.52" r="0.58" fill="none" stroke="#30c048" stroke-width="0.48"/><circle cx="748.70" cy="320.52" r="0.58" fill="none" stroke="#30c048" stroke-width="0.48"/><circle cx="744.70" cy="318.67" r="0.58" fill="none" stroke="#30c048" stroke-width="0.48"/><circle cx="746.70" cy="318.67" r="0.58" fill="none" stroke="#30c048" stroke-width="0.48"/><circle cx="750.70" cy="318.67" r="0.58" fill="none" stroke="#30c048" stroke-width="0.48"/><circle cx="742.70" cy="316.82" r="0.58" fill="none" stroke="#30c048" stroke-width="0.48"/><circle cx="744.70" cy="316.82" r="0.58" fill="none" stroke="#30c048" stroke-width="0.48"/><circle cx="746.70" cy="316.82" r="0.58" fill="none" stroke="#30c048" stroke-width="0.48"/><circle cx="750.70" cy="316.82" r="0.58" fill="none" stroke="#30c048" stroke-width="0.48"/><circle cx="745.70" cy="314.97" r="0.58" fill="none" stroke="#30c048" stroke-width="0.48"/><circle cx="749.70" cy="314.97" r="0.58" fill="none" stroke="#30c048" stroke-width="0.48"/><circle cx="751.70" cy="314.97" r="0.58" fill="none" stroke="#30c048" stroke-width="0.48"/><circle cx="745.70" cy="313.12" r="0.58" fill="none" stroke="#30c048" stroke-width="0.48"/><circle cx="747.70" cy="313.12" r="0.58" fill="none" stroke="#30c048" stroke-width="0.48"/><circle cx="749.70" cy="313.12" r="0.58" fill="none" stroke="#30c048" stroke-width="0.48"/><circle cx="741.70" cy="311.27" r="0.58" fill="none" stroke="#30c048" stroke-width="0.48"/><circle cx="745.70" cy="311.27" r="0.58" fill="none" stroke="#30c048" stroke-width="0.48"/><circle cx="747.70" cy="311.27" r="0.58" fill="none" stroke="#30c048" stroke-width="0.48"/><circle cx="749.70" cy="311.27" r="0.58" fill="none" stroke="#30c048" stroke-width="0.48"/><circle cx="751.70" cy="311.27" r="0.58" fill="none" stroke="#30c048" stroke-width="0.48"/><circle cx="740.70" cy="309.42" r="0.58" fill="none" stroke="#30c048" stroke-width="0.48"/><circle cx="744.70" cy="309.42" r="0.58" fill="none" stroke="#30c048" stroke-width="0.48"/><circle cx="746.70" cy="309.42" r="0.58" fill="none" stroke="#30c048" stroke-width="0.48"/><circle cx="750.70" cy="309.42" r="0.58" fill="none" stroke="#30c048" stroke-width="0.48"/><circle cx="752.70" cy="309.42" r="0.58" fill="none" stroke="#30c048" stroke-width="0.48"/><circle cx="740.70" cy="307.57" r="0.58" fill="none" stroke="#30c048" stroke-width="0.48"/><circle cx="742.70" cy="307.57" r="0.58" fill="none" stroke="#30c048" stroke-width="0.48"/><circle cx="744.70" cy="307.57" r="0.58" fill="none" stroke="#30c048" stroke-width="0.48"/><circle cx="746.70" cy="307.57" r="0.58" fill="none" stroke="#30c048" stroke-width="0.48"/><circle cx="748.70" cy="307.57" r="0.58" fill="none" stroke="#30c048" stroke-width="0.48"/><circle cx="750.70" cy="307.57" r="0.58" fill="none" stroke="#30c048" stroke-width="0.48"/><circle cx="752.70" cy="307.57" r="0.58" fill="none" stroke="#30c048" stroke-width="0.48"/><circle cx="743.70" cy="305.72" r="0.58" fill="none" stroke="#30c048" stroke-width="0.48"/><circle cx="747.70" cy="305.72" r="0.58" fill="none" stroke="#30c048" stroke-width="0.48"/><circle cx="745.70" cy="303.87" r="0.58" fill="none" stroke="#30c048" stroke-width="0.48"/><circle cx="747.70" cy="303.87" r="0.58" fill="none" stroke="#30c048" stroke-width="0.48"/><circle cx="749.70" cy="303.87" r="0.58" fill="none" stroke="#30c048" stroke-width="0.48"/><circle cx="742.70" cy="302.02" r="0.58" fill="none" stroke="#30c048" stroke-width="0.48"/><circle cx="744.70" cy="302.02" r="0.58" fill="none" stroke="#30c048" stroke-width="0.48"/><circle cx="748.70" cy="302.02" r="0.58" fill="none" stroke="#30c048" stroke-width="0.48"/><circle cx="743.70" cy="300.17" r="0.58" fill="none" stroke="#30c048" stroke-width="0.48"/><circle cx="744.70" cy="298.32" r="0.58" fill="none" stroke="#30c048" stroke-width="0.48"/><circle cx="746.70" cy="298.32" r="0.58" fill="none" stroke="#30c048" stroke-width="0.48"/><circle cx="748.70" cy="298.32" r="0.58" fill="none" stroke="#30c048" stroke-width="0.48"/><circle cx="745.70" cy="296.47" r="0.58" fill="none" stroke="#30c048" stroke-width="0.48"/><circle cx="747.70" cy="296.47" r="0.58" fill="none" stroke="#30c048" stroke-width="0.48"/><circle cx="745.70" cy="294.62" r="0.58" fill="none" stroke="#30c048" stroke-width="0.48"/><circle cx="747.70" cy="294.62" r="0.58" fill="none" stroke="#30c048" stroke-width="0.48"/><circle cx="745.70" cy="292.77" r="0.58" fill="none" stroke="#30c048" stroke-width="0.48"/><circle cx="747.70" cy="292.77" r="0.58" fill="none" stroke="#30c048" stroke-width="0.48"/><circle cx="746.70" cy="289.07" r="0.58" fill="none" stroke="#30c048" stroke-width="0.48"/><circle cx="744.70" cy="285.37" r="0.58" fill="none" stroke="#30c048" stroke-width="0.48"/><circle cx="748.70" cy="285.37" r="0.58" fill="none" stroke="#30c048" stroke-width="0.48"/><circle cx="746.70" cy="283.52" r="0.58" fill="none" stroke="#30c048" stroke-width="0.48"/><circle cx="746.70" cy="281.67" r="0.58" fill="none" stroke="#30c048" stroke-width="0.48"/><circle cx="744.70" cy="279.82" r="0.58" fill="none" stroke="#30c048" stroke-width="0.48"/><circle cx="746.70" cy="279.82" r="0.58" fill="none" stroke="#30c048" stroke-width="0.48"/><circle cx="748.70" cy="279.82" r="0.58" fill="none" stroke="#30c048" stroke-width="0.48"/><circle cx="746.70" cy="277.97" r="0.58" fill="none" stroke="#30c048" stroke-width="0.48"/><circle cx="746.70" cy="276.12" r="0.58" fill="none" stroke="#30c048" stroke-width="0.48"/><circle cx="746.70" cy="274.27" r="0.58" fill="none" stroke="#30c048" stroke-width="0.48"/><circle cx="746.70" cy="272.42" r="0.58" fill="none" stroke="#30c048" stroke-width="0.48"/><circle cx="746.70" cy="270.57" r="0.58" fill="none" stroke="#30c048" stroke-width="0.48"/><circle cx="746.70" cy="245.92" r="0.58" fill="none" stroke="#30c048" stroke-width="0.48"/><circle cx="746.70" cy="249.62" r="0.58" fill="none" stroke="#30c048" stroke-width="0.48"/><line x1="738.40" y1="306.96" x2="755.00" y2="306.96" stroke="#30c048" stroke-width="0.75"/><circle cx="766.35" cy="322.98" r="0.58" fill="none" stroke="#a43cd6" stroke-width="0.48"/><circle cx="766.35" cy="321.13" r="0.58" fill="none" stroke="#a43cd6" stroke-width="0.48"/><circle cx="763.35" cy="319.28" r="0.58" fill="none" stroke="#a43cd6" stroke-width="0.48"/><circle cx="767.35" cy="319.28" r="0.58" fill="none" stroke="#a43cd6" stroke-width="0.48"/><circle cx="762.35" cy="317.43" r="0.58" fill="none" stroke="#a43cd6" stroke-width="0.48"/><circle cx="768.35" cy="317.43" r="0.58" fill="none" stroke="#a43cd6" stroke-width="0.48"/><circle cx="770.35" cy="317.43" r="0.58" fill="none" stroke="#a43cd6" stroke-width="0.48"/><circle cx="762.35" cy="315.58" r="0.58" fill="none" stroke="#a43cd6" stroke-width="0.48"/><circle cx="764.35" cy="315.58" r="0.58" fill="none" stroke="#a43cd6" stroke-width="0.48"/><circle cx="768.35" cy="315.58" r="0.58" fill="none" stroke="#a43cd6" stroke-width="0.48"/><circle cx="770.35" cy="315.58" r="0.58" fill="none" stroke="#a43cd6" stroke-width="0.48"/><circle cx="766.35" cy="313.73" r="0.58" fill="none" stroke="#a43cd6" stroke-width="0.48"/><circle cx="768.35" cy="313.73" r="0.58" fill="none" stroke="#a43cd6" stroke-width="0.48"/><circle cx="770.35" cy="313.73" r="0.58" fill="none" stroke="#a43cd6" stroke-width="0.48"/><circle cx="760.35" cy="311.88" r="0.58" fill="none" stroke="#a43cd6" stroke-width="0.48"/><circle cx="762.35" cy="311.88" r="0.58" fill="none" stroke="#a43cd6" stroke-width="0.48"/><circle cx="764.35" cy="311.88" r="0.58" fill="none" stroke="#a43cd6" stroke-width="0.48"/><circle cx="768.35" cy="311.88" r="0.58" fill="none" stroke="#a43cd6" stroke-width="0.48"/><circle cx="770.35" cy="311.88" r="0.58" fill="none" stroke="#a43cd6" stroke-width="0.48"/><circle cx="772.35" cy="311.88" r="0.58" fill="none" stroke="#a43cd6" stroke-width="0.48"/><circle cx="762.35" cy="310.03" r="0.58" fill="none" stroke="#a43cd6" stroke-width="0.48"/><circle cx="766.35" cy="310.03" r="0.58" fill="none" stroke="#a43cd6" stroke-width="0.48"/><circle cx="768.35" cy="310.03" r="0.58" fill="none" stroke="#a43cd6" stroke-width="0.48"/><circle cx="772.35" cy="310.03" r="0.58" fill="none" stroke="#a43cd6" stroke-width="0.48"/><circle cx="762.35" cy="308.18" r="0.58" fill="none" stroke="#a43cd6" stroke-width="0.48"/><circle cx="768.35" cy="308.18" r="0.58" fill="none" stroke="#a43cd6" stroke-width="0.48"/><circle cx="770.35" cy="308.18" r="0.58" fill="none" stroke="#a43cd6" stroke-width="0.48"/><circle cx="763.35" cy="306.33" r="0.58" fill="none" stroke="#a43cd6" stroke-width="0.48"/><circle cx="769.35" cy="306.33" r="0.58" fill="none" stroke="#a43cd6" stroke-width="0.48"/><circle cx="765.35" cy="304.48" r="0.58" fill="none" stroke="#a43cd6" stroke-width="0.48"/><circle cx="767.35" cy="304.48" r="0.58" fill="none" stroke="#a43cd6" stroke-width="0.48"/><circle cx="769.35" cy="304.48" r="0.58" fill="none" stroke="#a43cd6" stroke-width="0.48"/><circle cx="765.35" cy="302.63" r="0.58" fill="none" stroke="#a43cd6" stroke-width="0.48"/><circle cx="767.35" cy="302.63" r="0.58" fill="none" stroke="#a43cd6" stroke-width="0.48"/><circle cx="765.35" cy="300.78" r="0.58" fill="none" stroke="#a43cd6" stroke-width="0.48"/><circle cx="767.35" cy="300.78" r="0.58" fill="none" stroke="#a43cd6" stroke-width="0.48"/><circle cx="769.35" cy="300.78" r="0.58" fill="none" stroke="#a43cd6" stroke-width="0.48"/><circle cx="768.35" cy="298.93" r="0.58" fill="none" stroke="#a43cd6" stroke-width="0.48"/><circle cx="764.35" cy="297.08" r="0.58" fill="none" stroke="#a43cd6" stroke-width="0.48"/><circle cx="768.35" cy="297.08" r="0.58" fill="none" stroke="#a43cd6" stroke-width="0.48"/><circle cx="765.35" cy="295.23" r="0.58" fill="none" stroke="#a43cd6" stroke-width="0.48"/><circle cx="767.35" cy="295.23" r="0.58" fill="none" stroke="#a43cd6" stroke-width="0.48"/><circle cx="765.35" cy="293.38" r="0.58" fill="none" stroke="#a43cd6" stroke-width="0.48"/><circle cx="767.35" cy="293.38" r="0.58" fill="none" stroke="#a43cd6" stroke-width="0.48"/><circle cx="766.35" cy="287.83" r="0.58" fill="none" stroke="#a43cd6" stroke-width="0.48"/><circle cx="765.35" cy="285.98" r="0.58" fill="none" stroke="#a43cd6" stroke-width="0.48"/><circle cx="767.35" cy="285.98" r="0.58" fill="none" stroke="#a43cd6" stroke-width="0.48"/><circle cx="766.35" cy="276.73" r="0.58" fill="none" stroke="#a43cd6" stroke-width="0.48"/><circle cx="766.35" cy="274.88" r="0.58" fill="none" stroke="#a43cd6" stroke-width="0.48"/><circle cx="766.35" cy="273.03" r="0.58" fill="none" stroke="#a43cd6" stroke-width="0.48"/><circle cx="766.35" cy="212.63" r="0.58" fill="none" stroke="#a43cd6" stroke-width="0.48"/><circle cx="766.35" cy="223.73" r="0.58" fill="none" stroke="#a43cd6" stroke-width="0.48"/><circle cx="766.35" cy="244.69" r="0.58" fill="none" stroke="#a43cd6" stroke-width="0.48"/><circle cx="766.35" cy="248.39" r="0.58" fill="none" stroke="#a43cd6" stroke-width="0.48"/><circle cx="765.35" cy="249.62" r="0.58" fill="none" stroke="#a43cd6" stroke-width="0.48"/><circle cx="767.35" cy="249.62" r="0.58" fill="none" stroke="#a43cd6" stroke-width="0.48"/><line x1="758.05" y1="306.96" x2="774.65" y2="306.96" stroke="#a43cd6" stroke-width="0.75"/><circle cx="786.00" cy="318.67" r="0.58" fill="none" stroke="#f2a644" stroke-width="0.48"/><circle cx="785.00" cy="316.82" r="0.58" fill="none" stroke="#f2a644" stroke-width="0.48"/><circle cx="787.00" cy="316.82" r="0.58" fill="none" stroke="#f2a644" stroke-width="0.48"/><circle cx="784.00" cy="314.97" r="0.58" fill="none" stroke="#f2a644" stroke-width="0.48"/><circle cx="786.00" cy="314.97" r="0.58" fill="none" stroke="#f2a644" stroke-width="0.48"/><circle cx="788.00" cy="314.97" r="0.58" fill="none" stroke="#f2a644" stroke-width="0.48"/><circle cx="786.00" cy="313.12" r="0.58" fill="none" stroke="#f2a644" stroke-width="0.48"/><circle cx="781.00" cy="311.27" r="0.58" fill="none" stroke="#f2a644" stroke-width="0.48"/><circle cx="785.00" cy="311.27" r="0.58" fill="none" stroke="#f2a644" stroke-width="0.48"/><circle cx="787.00" cy="311.27" r="0.58" fill="none" stroke="#f2a644" stroke-width="0.48"/><circle cx="789.00" cy="311.27" r="0.58" fill="none" stroke="#f2a644" stroke-width="0.48"/><circle cx="791.00" cy="311.27" r="0.58" fill="none" stroke="#f2a644" stroke-width="0.48"/><circle cx="780.00" cy="309.42" r="0.58" fill="none" stroke="#f2a644" stroke-width="0.48"/><circle cx="782.00" cy="309.42" r="0.58" fill="none" stroke="#f2a644" stroke-width="0.48"/><circle cx="784.00" cy="309.42" r="0.58" fill="none" stroke="#f2a644" stroke-width="0.48"/><circle cx="786.00" cy="309.42" r="0.58" fill="none" stroke="#f2a644" stroke-width="0.48"/><circle cx="788.00" cy="309.42" r="0.58" fill="none" stroke="#f2a644" stroke-width="0.48"/><circle cx="790.00" cy="309.42" r="0.58" fill="none" stroke="#f2a644" stroke-width="0.48"/><circle cx="792.00" cy="309.42" r="0.58" fill="none" stroke="#f2a644" stroke-width="0.48"/><circle cx="784.00" cy="307.57" r="0.58" fill="none" stroke="#f2a644" stroke-width="0.48"/><circle cx="786.00" cy="307.57" r="0.58" fill="none" stroke="#f2a644" stroke-width="0.48"/><circle cx="788.00" cy="307.57" r="0.58" fill="none" stroke="#f2a644" stroke-width="0.48"/><circle cx="784.00" cy="305.72" r="0.58" fill="none" stroke="#f2a644" stroke-width="0.48"/><circle cx="786.00" cy="305.72" r="0.58" fill="none" stroke="#f2a644" stroke-width="0.48"/><circle cx="788.00" cy="305.72" r="0.58" fill="none" stroke="#f2a644" stroke-width="0.48"/><circle cx="784.00" cy="303.87" r="0.58" fill="none" stroke="#f2a644" stroke-width="0.48"/><circle cx="786.00" cy="303.87" r="0.58" fill="none" stroke="#f2a644" stroke-width="0.48"/><circle cx="788.00" cy="303.87" r="0.58" fill="none" stroke="#f2a644" stroke-width="0.48"/><circle cx="785.00" cy="302.02" r="0.58" fill="none" stroke="#f2a644" stroke-width="0.48"/><circle cx="787.00" cy="302.02" r="0.58" fill="none" stroke="#f2a644" stroke-width="0.48"/><circle cx="786.00" cy="300.17" r="0.58" fill="none" stroke="#f2a644" stroke-width="0.48"/><circle cx="786.00" cy="298.32" r="0.58" fill="none" stroke="#f2a644" stroke-width="0.48"/><circle cx="786.00" cy="296.47" r="0.58" fill="none" stroke="#f2a644" stroke-width="0.48"/><circle cx="786.00" cy="294.62" r="0.58" fill="none" stroke="#f2a644" stroke-width="0.48"/><circle cx="786.00" cy="292.77" r="0.58" fill="none" stroke="#f2a644" stroke-width="0.48"/><circle cx="786.00" cy="290.92" r="0.58" fill="none" stroke="#f2a644" stroke-width="0.48"/><circle cx="786.00" cy="289.07" r="0.58" fill="none" stroke="#f2a644" stroke-width="0.48"/><circle cx="786.00" cy="287.22" r="0.58" fill="none" stroke="#f2a644" stroke-width="0.48"/><circle cx="786.00" cy="283.52" r="0.58" fill="none" stroke="#f2a644" stroke-width="0.48"/><circle cx="786.00" cy="276.12" r="0.58" fill="none" stroke="#f2a644" stroke-width="0.48"/><line x1="777.70" y1="310.65" x2="794.30" y2="310.65" stroke="#f2a644" stroke-width="0.75"/><circle cx="805.65" cy="249.62" r="0.58" fill="none" stroke="#2c3038" stroke-width="0.48"/><circle cx="805.65" cy="277.98" r="0.58" fill="none" stroke="#2c3038" stroke-width="0.48"/><circle cx="805.65" cy="284.76" r="0.58" fill="none" stroke="#2c3038" stroke-width="0.48"/><circle cx="804.85" cy="286.61" r="0.58" fill="none" stroke="#2c3038" stroke-width="0.48"/><circle cx="806.45" cy="286.61" r="0.58" fill="none" stroke="#2c3038" stroke-width="0.48"/><circle cx="805.65" cy="294.01" r="0.58" fill="none" stroke="#2c3038" stroke-width="0.48"/><circle cx="805.65" cy="300.17" r="0.58" fill="none" stroke="#2c3038" stroke-width="0.48"/><circle cx="805.65" cy="302.64" r="0.58" fill="none" stroke="#2c3038" stroke-width="0.48"/><circle cx="805.65" cy="307.57" r="0.58" fill="none" stroke="#2c3038" stroke-width="0.48"/><circle cx="804.85" cy="311.89" r="0.58" fill="none" stroke="#2c3038" stroke-width="0.48"/><circle cx="806.45" cy="311.89" r="0.58" fill="none" stroke="#2c3038" stroke-width="0.48"/><circle cx="805.65" cy="315.59" r="0.58" fill="none" stroke="#2c3038" stroke-width="0.48"/><circle cx="805.65" cy="316.20" r="0.58" fill="none" stroke="#2c3038" stroke-width="0.48"/><line x1="797.35" y1="298.94" x2="813.95" y2="298.94" stroke="#2c3038" stroke-width="0.75"/><line x1="805.65" y1="311.89" x2="805.65" y2="284.76" stroke="#2c3038" stroke-width="0.675"/><line x1="802.25" y1="311.89" x2="809.05" y2="311.89" stroke="#2c3038" stroke-width="0.675"/><line x1="802.25" y1="284.76" x2="809.05" y2="284.76" stroke="#2c3038" stroke-width="0.675"/><circle cx="825.30" cy="321.13" r="0.58" fill="none" stroke="#c49a4c" stroke-width="0.48"/><circle cx="823.30" cy="315.59" r="0.58" fill="none" stroke="#c49a4c" stroke-width="0.48"/><circle cx="825.30" cy="315.59" r="0.58" fill="none" stroke="#c49a4c" stroke-width="0.48"/><circle cx="827.30" cy="315.59" r="0.58" fill="none" stroke="#c49a4c" stroke-width="0.48"/><circle cx="823.30" cy="313.74" r="0.58" fill="none" stroke="#c49a4c" stroke-width="0.48"/><circle cx="825.30" cy="313.74" r="0.58" fill="none" stroke="#c49a4c" stroke-width="0.48"/><circle cx="827.30" cy="313.74" r="0.58" fill="none" stroke="#c49a4c" stroke-width="0.48"/><circle cx="822.30" cy="311.88" r="0.58" fill="none" stroke="#c49a4c" stroke-width="0.48"/><circle cx="824.30" cy="311.88" r="0.58" fill="none" stroke="#c49a4c" stroke-width="0.48"/><circle cx="826.30" cy="311.88" r="0.58" fill="none" stroke="#c49a4c" stroke-width="0.48"/><circle cx="828.30" cy="311.88" r="0.58" fill="none" stroke="#c49a4c" stroke-width="0.48"/><circle cx="822.30" cy="310.04" r="0.58" fill="none" stroke="#c49a4c" stroke-width="0.48"/><circle cx="826.30" cy="310.04" r="0.58" fill="none" stroke="#c49a4c" stroke-width="0.48"/><circle cx="828.30" cy="310.04" r="0.58" fill="none" stroke="#c49a4c" stroke-width="0.48"/><circle cx="825.30" cy="308.19" r="0.58" fill="none" stroke="#c49a4c" stroke-width="0.48"/><circle cx="825.30" cy="306.34" r="0.58" fill="none" stroke="#c49a4c" stroke-width="0.48"/><circle cx="825.30" cy="304.49" r="0.58" fill="none" stroke="#c49a4c" stroke-width="0.48"/><circle cx="825.30" cy="302.63" r="0.58" fill="none" stroke="#c49a4c" stroke-width="0.48"/><circle cx="825.30" cy="297.09" r="0.58" fill="none" stroke="#c49a4c" stroke-width="0.48"/><circle cx="825.30" cy="293.38" r="0.58" fill="none" stroke="#c49a4c" stroke-width="0.48"/><line x1="817.00" y1="311.27" x2="833.60" y2="311.27" stroke="#c49a4c" stroke-width="0.75"/><line x1="825.30" y1="318.05" x2="825.30" y2="303.26" stroke="#c49a4c" stroke-width="0.675"/><line x1="821.90" y1="318.05" x2="828.70" y2="318.05" stroke="#c49a4c" stroke-width="0.675"/><line x1="821.90" y1="303.26" x2="828.70" y2="303.26" stroke="#c49a4c" stroke-width="0.675"/><circle cx="844.95" cy="287.84" r="0.58" fill="none" stroke="#3a52b4" stroke-width="0.48"/><circle cx="844.95" cy="294.01" r="0.58" fill="none" stroke="#3a52b4" stroke-width="0.48"/><circle cx="844.15" cy="301.41" r="0.58" fill="none" stroke="#3a52b4" stroke-width="0.48"/><circle cx="845.75" cy="301.41" r="0.58" fill="none" stroke="#3a52b4" stroke-width="0.48"/><circle cx="844.95" cy="312.50" r="0.58" fill="none" stroke="#3a52b4" stroke-width="0.48"/><circle cx="844.95" cy="316.20" r="0.58" fill="none" stroke="#3a52b4" stroke-width="0.48"/><circle cx="844.95" cy="318.05" r="0.58" fill="none" stroke="#3a52b4" stroke-width="0.48"/><circle cx="844.95" cy="319.90" r="0.58" fill="none" stroke="#3a52b4" stroke-width="0.48"/><line x1="836.65" y1="312.50" x2="853.25" y2="312.50" stroke="#3a52b4" stroke-width="0.75"/><line x1="844.95" y1="318.05" x2="844.95" y2="294.01" stroke="#3a52b4" stroke-width="0.675"/><line x1="841.55" y1="318.05" x2="848.35" y2="318.05" stroke="#3a52b4" stroke-width="0.675"/><line x1="841.55" y1="294.01" x2="848.35" y2="294.01" stroke="#3a52b4" stroke-width="0.675"/><circle cx="864.60" cy="318.67" r="0.58" fill="none" stroke="#82348e" stroke-width="0.48"/><circle cx="864.60" cy="313.12" r="0.58" fill="none" stroke="#82348e" stroke-width="0.48"/><circle cx="862.60" cy="309.42" r="0.58" fill="none" stroke="#82348e" stroke-width="0.48"/><circle cx="866.60" cy="309.42" r="0.58" fill="none" stroke="#82348e" stroke-width="0.48"/><circle cx="862.60" cy="307.57" r="0.58" fill="none" stroke="#82348e" stroke-width="0.48"/><circle cx="864.60" cy="307.57" r="0.58" fill="none" stroke="#82348e" stroke-width="0.48"/><circle cx="866.60" cy="307.57" r="0.58" fill="none" stroke="#82348e" stroke-width="0.48"/><circle cx="862.60" cy="305.72" r="0.58" fill="none" stroke="#82348e" stroke-width="0.48"/><circle cx="864.60" cy="305.72" r="0.58" fill="none" stroke="#82348e" stroke-width="0.48"/><circle cx="862.60" cy="303.87" r="0.58" fill="none" stroke="#82348e" stroke-width="0.48"/><circle cx="864.60" cy="303.87" r="0.58" fill="none" stroke="#82348e" stroke-width="0.48"/><circle cx="866.60" cy="303.87" r="0.58" fill="none" stroke="#82348e" stroke-width="0.48"/><circle cx="861.60" cy="302.02" r="0.58" fill="none" stroke="#82348e" stroke-width="0.48"/><circle cx="863.60" cy="302.02" r="0.58" fill="none" stroke="#82348e" stroke-width="0.48"/><circle cx="865.60" cy="302.02" r="0.58" fill="none" stroke="#82348e" stroke-width="0.48"/><circle cx="864.60" cy="300.17" r="0.58" fill="none" stroke="#82348e" stroke-width="0.48"/><circle cx="863.60" cy="298.32" r="0.58" fill="none" stroke="#82348e" stroke-width="0.48"/><circle cx="867.60" cy="298.32" r="0.58" fill="none" stroke="#82348e" stroke-width="0.48"/><circle cx="862.60" cy="296.47" r="0.58" fill="none" stroke="#82348e" stroke-width="0.48"/><circle cx="863.60" cy="294.62" r="0.58" fill="none" stroke="#82348e" stroke-width="0.48"/><circle cx="865.60" cy="294.62" r="0.58" fill="none" stroke="#82348e" stroke-width="0.48"/><circle cx="864.60" cy="292.77" r="0.58" fill="none" stroke="#82348e" stroke-width="0.48"/><circle cx="864.60" cy="290.92" r="0.58" fill="none" stroke="#82348e" stroke-width="0.48"/><circle cx="864.60" cy="289.07" r="0.58" fill="none" stroke="#82348e" stroke-width="0.48"/><circle cx="864.60" cy="287.22" r="0.58" fill="none" stroke="#82348e" stroke-width="0.48"/><circle cx="864.60" cy="223.73" r="0.58" fill="none" stroke="#82348e" stroke-width="0.48"/><circle cx="863.60" cy="249.62" r="0.58" fill="none" stroke="#82348e" stroke-width="0.48"/><circle cx="865.60" cy="249.62" r="0.58" fill="none" stroke="#82348e" stroke-width="0.48"/><circle cx="864.60" cy="250.85" r="0.58" fill="none" stroke="#82348e" stroke-width="0.48"/><circle cx="864.60" cy="270.58" r="0.58" fill="none" stroke="#82348e" stroke-width="0.48"/><circle cx="864.60" cy="274.28" r="0.58" fill="none" stroke="#82348e" stroke-width="0.48"/><circle cx="864.60" cy="275.51" r="0.58" fill="none" stroke="#82348e" stroke-width="0.48"/><line x1="856.30" y1="300.17" x2="872.90" y2="300.17" stroke="#82348e" stroke-width="0.75"/><line x1="864.60" y1="307.57" x2="864.60" y2="295.24" stroke="#82348e" stroke-width="0.675"/><line x1="861.20" y1="307.57" x2="868.00" y2="307.57" stroke="#82348e" stroke-width="0.675"/><line x1="861.20" y1="295.24" x2="868.00" y2="295.24" stroke="#82348e" stroke-width="0.675"/><circle cx="884.25" cy="324.83" r="0.58" fill="none" stroke="#cc3c3c" stroke-width="0.48"/><circle cx="884.25" cy="322.98" r="0.58" fill="none" stroke="#cc3c3c" stroke-width="0.48"/><circle cx="884.25" cy="321.13" r="0.58" fill="none" stroke="#cc3c3c" stroke-width="0.48"/><circle cx="881.25" cy="319.28" r="0.58" fill="none" stroke="#cc3c3c" stroke-width="0.48"/><circle cx="883.25" cy="319.28" r="0.58" fill="none" stroke="#cc3c3c" stroke-width="0.48"/><circle cx="885.25" cy="319.28" r="0.58" fill="none" stroke="#cc3c3c" stroke-width="0.48"/><circle cx="887.25" cy="319.28" r="0.58" fill="none" stroke="#cc3c3c" stroke-width="0.48"/><circle cx="880.25" cy="317.43" r="0.58" fill="none" stroke="#cc3c3c" stroke-width="0.48"/><circle cx="884.25" cy="317.43" r="0.58" fill="none" stroke="#cc3c3c" stroke-width="0.48"/><circle cx="886.25" cy="317.43" r="0.58" fill="none" stroke="#cc3c3c" stroke-width="0.48"/><circle cx="888.25" cy="317.43" r="0.58" fill="none" stroke="#cc3c3c" stroke-width="0.48"/><circle cx="880.25" cy="315.58" r="0.58" fill="none" stroke="#cc3c3c" stroke-width="0.48"/><circle cx="882.25" cy="315.58" r="0.58" fill="none" stroke="#cc3c3c" stroke-width="0.48"/><circle cx="884.25" cy="315.58" r="0.58" fill="none" stroke="#cc3c3c" stroke-width="0.48"/><circle cx="886.25" cy="315.58" r="0.58" fill="none" stroke="#cc3c3c" stroke-width="0.48"/><circle cx="888.25" cy="315.58" r="0.58" fill="none" stroke="#cc3c3c" stroke-width="0.48"/><circle cx="888.25" cy="313.73" r="0.58" fill="none" stroke="#cc3c3c" stroke-width="0.48"/><circle cx="890.25" cy="313.73" r="0.58" fill="none" stroke="#cc3c3c" stroke-width="0.48"/><circle cx="879.25" cy="311.88" r="0.58" fill="none" stroke="#cc3c3c" stroke-width="0.48"/><circle cx="883.25" cy="311.88" r="0.58" fill="none" stroke="#cc3c3c" stroke-width="0.48"/><circle cx="885.25" cy="311.88" r="0.58" fill="none" stroke="#cc3c3c" stroke-width="0.48"/><circle cx="889.25" cy="311.88" r="0.58" fill="none" stroke="#cc3c3c" stroke-width="0.48"/><circle cx="878.25" cy="310.03" r="0.58" fill="none" stroke="#cc3c3c" stroke-width="0.48"/><circle cx="880.25" cy="310.03" r="0.58" fill="none" stroke="#cc3c3c" stroke-width="0.48"/><circle cx="882.25" cy="310.03" r="0.58" fill="none" stroke="#cc3c3c" stroke-width="0.48"/><circle cx="884.25" cy="310.03" r="0.58" fill="none" stroke="#cc3c3c" stroke-width="0.48"/><circle cx="886.25" cy="310.03" r="0.58" fill="none" stroke="#cc3c3c" stroke-width="0.48"/><circle cx="888.25" cy="310.03" r="0.58" fill="none" stroke="#cc3c3c" stroke-width="0.48"/><circle cx="890.25" cy="310.03" r="0.58" fill="none" stroke="#cc3c3c" stroke-width="0.48"/><circle cx="880.25" cy="308.18" r="0.58" fill="none" stroke="#cc3c3c" stroke-width="0.48"/><circle cx="882.25" cy="308.18" r="0.58" fill="none" stroke="#cc3c3c" stroke-width="0.48"/><circle cx="884.25" cy="308.18" r="0.58" fill="none" stroke="#cc3c3c" stroke-width="0.48"/><circle cx="886.25" cy="308.18" r="0.58" fill="none" stroke="#cc3c3c" stroke-width="0.48"/><circle cx="888.25" cy="308.18" r="0.58" fill="none" stroke="#cc3c3c" stroke-width="0.48"/><circle cx="882.25" cy="306.33" r="0.58" fill="none" stroke="#cc3c3c" stroke-width="0.48"/><circle cx="884.25" cy="306.33" r="0.58" fill="none" stroke="#cc3c3c" stroke-width="0.48"/><circle cx="886.25" cy="306.33" r="0.58" fill="none" stroke="#cc3c3c" stroke-width="0.48"/><circle cx="882.25" cy="304.48" r="0.58" fill="none" stroke="#cc3c3c" stroke-width="0.48"/><circle cx="884.25" cy="304.48" r="0.58" fill="none" stroke="#cc3c3c" stroke-width="0.48"/><circle cx="886.25" cy="304.48" r="0.58" fill="none" stroke="#cc3c3c" stroke-width="0.48"/><circle cx="882.25" cy="302.63" r="0.58" fill="none" stroke="#cc3c3c" stroke-width="0.48"/><circle cx="884.25" cy="302.63" r="0.58" fill="none" stroke="#cc3c3c" stroke-width="0.48"/><circle cx="886.25" cy="302.63" r="0.58" fill="none" stroke="#cc3c3c" stroke-width="0.48"/><circle cx="883.25" cy="300.78" r="0.58" fill="none" stroke="#cc3c3c" stroke-width="0.48"/><circle cx="885.25" cy="300.78" r="0.58" fill="none" stroke="#cc3c3c" stroke-width="0.48"/><circle cx="883.25" cy="298.93" r="0.58" fill="none" stroke="#cc3c3c" stroke-width="0.48"/><circle cx="885.25" cy="298.93" r="0.58" fill="none" stroke="#cc3c3c" stroke-width="0.48"/><circle cx="883.25" cy="297.08" r="0.58" fill="none" stroke="#cc3c3c" stroke-width="0.48"/><circle cx="885.25" cy="297.08" r="0.58" fill="none" stroke="#cc3c3c" stroke-width="0.48"/><circle cx="884.25" cy="295.23" r="0.58" fill="none" stroke="#cc3c3c" stroke-width="0.48"/><circle cx="884.25" cy="293.38" r="0.58" fill="none" stroke="#cc3c3c" stroke-width="0.48"/><circle cx="884.25" cy="291.53" r="0.58" fill="none" stroke="#cc3c3c" stroke-width="0.48"/><circle cx="884.25" cy="289.68" r="0.58" fill="none" stroke="#cc3c3c" stroke-width="0.48"/><circle cx="884.25" cy="285.98" r="0.58" fill="none" stroke="#cc3c3c" stroke-width="0.48"/><circle cx="884.25" cy="284.13" r="0.58" fill="none" stroke="#cc3c3c" stroke-width="0.48"/><circle cx="886.25" cy="284.13" r="0.58" fill="none" stroke="#cc3c3c" stroke-width="0.48"/><circle cx="884.25" cy="282.28" r="0.58" fill="none" stroke="#cc3c3c" stroke-width="0.48"/><circle cx="884.25" cy="280.43" r="0.58" fill="none" stroke="#cc3c3c" stroke-width="0.48"/><circle cx="882.25" cy="278.58" r="0.58" fill="none" stroke="#cc3c3c" stroke-width="0.48"/><circle cx="884.25" cy="278.58" r="0.58" fill="none" stroke="#cc3c3c" stroke-width="0.48"/><circle cx="886.25" cy="278.58" r="0.58" fill="none" stroke="#cc3c3c" stroke-width="0.48"/><circle cx="884.25" cy="276.73" r="0.58" fill="none" stroke="#cc3c3c" stroke-width="0.48"/><circle cx="884.25" cy="273.03" r="0.58" fill="none" stroke="#cc3c3c" stroke-width="0.48"/><circle cx="884.25" cy="212.63" r="0.58" fill="none" stroke="#cc3c3c" stroke-width="0.48"/><circle cx="884.25" cy="244.69" r="0.58" fill="none" stroke="#cc3c3c" stroke-width="0.48"/><circle cx="884.25" cy="245.92" r="0.58" fill="none" stroke="#cc3c3c" stroke-width="0.48"/><line x1="875.95" y1="310.65" x2="892.55" y2="310.65" stroke="#cc3c3c" stroke-width="0.75"/><circle cx="903.90" cy="320.52" r="0.58" fill="none" stroke="#2e9c3c" stroke-width="0.48"/><circle cx="901.90" cy="316.82" r="0.58" fill="none" stroke="#2e9c3c" stroke-width="0.48"/><circle cx="905.90" cy="316.82" r="0.58" fill="none" stroke="#2e9c3c" stroke-width="0.48"/><circle cx="904.90" cy="314.97" r="0.58" fill="none" stroke="#2e9c3c" stroke-width="0.48"/><circle cx="906.90" cy="314.97" r="0.58" fill="none" stroke="#2e9c3c" stroke-width="0.48"/><circle cx="902.90" cy="313.12" r="0.58" fill="none" stroke="#2e9c3c" stroke-width="0.48"/><circle cx="904.90" cy="313.12" r="0.58" fill="none" stroke="#2e9c3c" stroke-width="0.48"/><circle cx="900.90" cy="311.27" r="0.58" fill="none" stroke="#2e9c3c" stroke-width="0.48"/><circle cx="902.90" cy="311.27" r="0.58" fill="none" stroke="#2e9c3c" stroke-width="0.48"/><circle cx="906.90" cy="311.27" r="0.58" fill="none" stroke="#2e9c3c" stroke-width="0.48"/><circle cx="899.90" cy="309.42" r="0.58" fill="none" stroke="#2e9c3c" stroke-width="0.48"/><circle cx="901.90" cy="309.42" r="0.58" fill="none" stroke="#2e9c3c" stroke-width="0.48"/><circle cx="903.90" cy="309.42" r="0.58" fill="none" stroke="#2e9c3c" stroke-width="0.48"/><circle cx="905.90" cy="309.42" r="0.58" fill="none" stroke="#2e9c3c" stroke-width="0.48"/><circle cx="899.90" cy="307.57" r="0.58" fill="none" stroke="#2e9c3c" stroke-width="0.48"/><circle cx="901.90" cy="307.57" r="0.58" fill="none" stroke="#2e9c3c" stroke-width="0.48"/><circle cx="903.90" cy="307.57" r="0.58" fill="none" stroke="#2e9c3c" stroke-width="0.48"/><circle cx="905.90" cy="307.57" r="0.58" fill="none" stroke="#2e9c3c" stroke-width="0.48"/><circle cx="907.90" cy="307.57" r="0.58" fill="none" stroke="#2e9c3c" stroke-width="0.48"/><circle cx="900.90" cy="305.72" r="0.58" fill="none" stroke="#2e9c3c" stroke-width="0.48"/><circle cx="902.90" cy="305.72" r="0.58" fill="none" stroke="#2e9c3c" stroke-width="0.48"/><circle cx="904.90" cy="305.72" r="0.58" fill="none" stroke="#2e9c3c" stroke-width="0.48"/><circle cx="899.90" cy="303.87" r="0.58" fill="none" stroke="#2e9c3c" stroke-width="0.48"/><circle cx="901.90" cy="303.87" r="0.58" fill="none" stroke="#2e9c3c" stroke-width="0.48"/><circle cx="903.90" cy="303.87" r="0.58" fill="none" stroke="#2e9c3c" stroke-width="0.48"/><circle cx="905.90" cy="303.87" r="0.58" fill="none" stroke="#2e9c3c" stroke-width="0.48"/><circle cx="899.90" cy="302.02" r="0.58" fill="none" stroke="#2e9c3c" stroke-width="0.48"/><circle cx="901.90" cy="302.02" r="0.58" fill="none" stroke="#2e9c3c" stroke-width="0.48"/><circle cx="903.90" cy="302.02" r="0.58" fill="none" stroke="#2e9c3c" stroke-width="0.48"/><circle cx="905.90" cy="302.02" r="0.58" fill="none" stroke="#2e9c3c" stroke-width="0.48"/><circle cx="907.90" cy="302.02" r="0.58" fill="none" stroke="#2e9c3c" stroke-width="0.48"/><circle cx="900.90" cy="300.17" r="0.58" fill="none" stroke="#2e9c3c" stroke-width="0.48"/><circle cx="904.90" cy="300.17" r="0.58" fill="none" stroke="#2e9c3c" stroke-width="0.48"/><circle cx="906.90" cy="300.17" r="0.58" fill="none" stroke="#2e9c3c" stroke-width="0.48"/><circle cx="901.90" cy="298.32" r="0.58" fill="none" stroke="#2e9c3c" stroke-width="0.48"/><circle cx="903.90" cy="298.32" r="0.58" fill="none" stroke="#2e9c3c" stroke-width="0.48"/><circle cx="905.90" cy="298.32" r="0.58" fill="none" stroke="#2e9c3c" stroke-width="0.48"/><circle cx="901.90" cy="296.47" r="0.58" fill="none" stroke="#2e9c3c" stroke-width="0.48"/><circle cx="903.90" cy="296.47" r="0.58" fill="none" stroke="#2e9c3c" stroke-width="0.48"/><circle cx="905.90" cy="296.47" r="0.58" fill="none" stroke="#2e9c3c" stroke-width="0.48"/><circle cx="902.90" cy="294.62" r="0.58" fill="none" stroke="#2e9c3c" stroke-width="0.48"/><circle cx="904.90" cy="294.62" r="0.58" fill="none" stroke="#2e9c3c" stroke-width="0.48"/><circle cx="903.90" cy="290.92" r="0.58" fill="none" stroke="#2e9c3c" stroke-width="0.48"/><circle cx="903.90" cy="289.07" r="0.58" fill="none" stroke="#2e9c3c" stroke-width="0.48"/><circle cx="903.90" cy="285.37" r="0.58" fill="none" stroke="#2e9c3c" stroke-width="0.48"/><circle cx="903.90" cy="283.52" r="0.58" fill="none" stroke="#2e9c3c" stroke-width="0.48"/><circle cx="903.90" cy="279.82" r="0.58" fill="none" stroke="#2e9c3c" stroke-width="0.48"/><circle cx="903.90" cy="277.97" r="0.58" fill="none" stroke="#2e9c3c" stroke-width="0.48"/><circle cx="903.90" cy="276.12" r="0.58" fill="none" stroke="#2e9c3c" stroke-width="0.48"/><circle cx="903.90" cy="274.27" r="0.58" fill="none" stroke="#2e9c3c" stroke-width="0.48"/><circle cx="903.90" cy="212.63" r="0.58" fill="none" stroke="#2e9c3c" stroke-width="0.48"/><circle cx="903.90" cy="223.73" r="0.58" fill="none" stroke="#2e9c3c" stroke-width="0.48"/><circle cx="903.90" cy="244.69" r="0.58" fill="none" stroke="#2e9c3c" stroke-width="0.48"/><circle cx="902.90" cy="249.62" r="0.58" fill="none" stroke="#2e9c3c" stroke-width="0.48"/><circle cx="904.90" cy="249.62" r="0.58" fill="none" stroke="#2e9c3c" stroke-width="0.48"/><circle cx="903.90" cy="250.85" r="0.58" fill="none" stroke="#2e9c3c" stroke-width="0.48"/><line x1="895.60" y1="301.41" x2="912.20" y2="301.41" stroke="#2e9c3c" stroke-width="0.75"/><line x1="903.90" y1="310.04" x2="903.90" y2="296.48" stroke="#2e9c3c" stroke-width="0.675"/><line x1="900.50" y1="310.04" x2="907.30" y2="310.04" stroke="#2e9c3c" stroke-width="0.675"/><line x1="900.50" y1="296.48" x2="907.30" y2="296.48" stroke="#2e9c3c" stroke-width="0.675"/><circle cx="923.55" cy="321.75" r="0.58" fill="none" stroke="#f6c692" stroke-width="0.48"/><circle cx="921.55" cy="316.20" r="0.58" fill="none" stroke="#f6c692" stroke-width="0.48"/><circle cx="923.55" cy="316.20" r="0.58" fill="none" stroke="#f6c692" stroke-width="0.48"/><circle cx="925.55" cy="316.20" r="0.58" fill="none" stroke="#f6c692" stroke-width="0.48"/><circle cx="920.55" cy="314.35" r="0.58" fill="none" stroke="#f6c692" stroke-width="0.48"/><circle cx="926.55" cy="314.35" r="0.58" fill="none" stroke="#f6c692" stroke-width="0.48"/><circle cx="918.55" cy="312.50" r="0.58" fill="none" stroke="#f6c692" stroke-width="0.48"/><circle cx="924.55" cy="312.50" r="0.58" fill="none" stroke="#f6c692" stroke-width="0.48"/><circle cx="926.55" cy="312.50" r="0.58" fill="none" stroke="#f6c692" stroke-width="0.48"/><circle cx="928.55" cy="312.50" r="0.58" fill="none" stroke="#f6c692" stroke-width="0.48"/><circle cx="920.55" cy="310.65" r="0.58" fill="none" stroke="#f6c692" stroke-width="0.48"/><circle cx="924.55" cy="310.65" r="0.58" fill="none" stroke="#f6c692" stroke-width="0.48"/><circle cx="926.55" cy="310.65" r="0.58" fill="none" stroke="#f6c692" stroke-width="0.48"/><circle cx="928.55" cy="310.65" r="0.58" fill="none" stroke="#f6c692" stroke-width="0.48"/><circle cx="920.55" cy="308.80" r="0.58" fill="none" stroke="#f6c692" stroke-width="0.48"/><circle cx="922.55" cy="308.80" r="0.58" fill="none" stroke="#f6c692" stroke-width="0.48"/><circle cx="926.55" cy="308.80" r="0.58" fill="none" stroke="#f6c692" stroke-width="0.48"/><circle cx="921.55" cy="306.95" r="0.58" fill="none" stroke="#f6c692" stroke-width="0.48"/><circle cx="925.55" cy="306.95" r="0.58" fill="none" stroke="#f6c692" stroke-width="0.48"/><circle cx="925.55" cy="305.10" r="0.58" fill="none" stroke="#f6c692" stroke-width="0.48"/><circle cx="925.55" cy="303.25" r="0.58" fill="none" stroke="#f6c692" stroke-width="0.48"/><circle cx="921.55" cy="301.40" r="0.58" fill="none" stroke="#f6c692" stroke-width="0.48"/><circle cx="925.55" cy="301.40" r="0.58" fill="none" stroke="#f6c692" stroke-width="0.48"/><circle cx="922.55" cy="299.55" r="0.58" fill="none" stroke="#f6c692" stroke-width="0.48"/><circle cx="924.55" cy="299.55" r="0.58" fill="none" stroke="#f6c692" stroke-width="0.48"/><circle cx="923.55" cy="295.85" r="0.58" fill="none" stroke="#f6c692" stroke-width="0.48"/><circle cx="923.55" cy="294.00" r="0.58" fill="none" stroke="#f6c692" stroke-width="0.48"/><circle cx="923.55" cy="292.15" r="0.58" fill="none" stroke="#f6c692" stroke-width="0.48"/><circle cx="923.55" cy="290.30" r="0.58" fill="none" stroke="#f6c692" stroke-width="0.48"/><circle cx="923.55" cy="286.60" r="0.58" fill="none" stroke="#f6c692" stroke-width="0.48"/><circle cx="922.55" cy="284.75" r="0.58" fill="none" stroke="#f6c692" stroke-width="0.48"/><circle cx="924.55" cy="284.75" r="0.58" fill="none" stroke="#f6c692" stroke-width="0.48"/><circle cx="923.55" cy="282.90" r="0.58" fill="none" stroke="#f6c692" stroke-width="0.48"/><circle cx="923.55" cy="281.05" r="0.58" fill="none" stroke="#f6c692" stroke-width="0.48"/><circle cx="923.55" cy="275.50" r="0.58" fill="none" stroke="#f6c692" stroke-width="0.48"/><circle cx="923.55" cy="245.92" r="0.58" fill="none" stroke="#f6c692" stroke-width="0.48"/><line x1="915.25" y1="310.65" x2="931.85" y2="310.65" stroke="#f6c692" stroke-width="0.75"/><line x1="694.0" y1="203.0" x2="694.0" y2="328.05" stroke="#3c4a58" stroke-width="1.5"/><line x1="693.25" y1="327.3" x2="936.7" y2="327.3" stroke="#3c4a58" stroke-width="1.5"/><line x1="690.65" y1="327.30" x2="694.0" y2="327.30" stroke="#3c4a58" stroke-width="0.6"/><line x1="691.95" y1="322.37" x2="694.0" y2="322.37" stroke="#3c4a58" stroke-width="0.6"/><line x1="691.95" y1="317.44" x2="694.0" y2="317.44" stroke="#3c4a58" stroke-width="0.6"/><line x1="691.95" y1="312.50" x2="694.0" y2="312.50" stroke="#3c4a58" stroke-width="0.6"/><line x1="691.95" y1="307.57" x2="694.0" y2="307.57" stroke="#3c4a58" stroke-width="0.6"/><line x1="690.65" y1="302.64" x2="694.0" y2="302.64" stroke="#3c4a58" stroke-width="0.6"/><line x1="691.95" y1="297.71" x2="694.0" y2="297.71" stroke="#3c4a58" stroke-width="0.6"/><line x1="691.95" y1="292.78" x2="694.0" y2="292.78" stroke="#3c4a58" stroke-width="0.6"/><line x1="691.95" y1="287.84" x2="694.0" y2="287.84" stroke="#3c4a58" stroke-width="0.6"/><line x1="691.95" y1="282.91" x2="694.0" y2="282.91" stroke="#3c4a58" stroke-width="0.6"/><line x1="690.65" y1="277.98" x2="694.0" y2="277.98" stroke="#3c4a58" stroke-width="0.6"/><line x1="691.95" y1="273.05" x2="694.0" y2="273.05" stroke="#3c4a58" stroke-width="0.6"/><line x1="691.95" y1="268.12" x2="694.0" y2="268.12" stroke="#3c4a58" stroke-width="0.6"/><line x1="691.95" y1="263.18" x2="694.0" y2="263.18" stroke="#3c4a58" stroke-width="0.6"/><line x1="691.95" y1="258.25" x2="694.0" y2="258.25" stroke="#3c4a58" stroke-width="0.6"/><line x1="690.65" y1="253.32" x2="694.0" y2="253.32" stroke="#3c4a58" stroke-width="0.6"/><line x1="691.95" y1="248.39" x2="694.0" y2="248.39" stroke="#3c4a58" stroke-width="0.6"/><line x1="691.95" y1="243.46" x2="694.0" y2="243.46" stroke="#3c4a58" stroke-width="0.6"/><line x1="691.95" y1="238.52" x2="694.0" y2="238.52" stroke="#3c4a58" stroke-width="0.6"/><line x1="691.95" y1="233.59" x2="694.0" y2="233.59" stroke="#3c4a58" stroke-width="0.6"/><line x1="690.65" y1="228.66" x2="694.0" y2="228.66" stroke="#3c4a58" stroke-width="0.6"/><line x1="691.95" y1="223.73" x2="694.0" y2="223.73" stroke="#3c4a58" stroke-width="0.6"/><line x1="691.95" y1="218.80" x2="694.0" y2="218.80" stroke="#3c4a58" stroke-width="0.6"/><line x1="691.95" y1="213.86" x2="694.0" y2="213.86" stroke="#3c4a58" stroke-width="0.6"/><line x1="691.95" y1="208.93" x2="694.0" y2="208.93" stroke="#3c4a58" stroke-width="0.6"/><line x1="690.65" y1="204.00" x2="694.0" y2="204.00" stroke="#3c4a58" stroke-width="0.6"/><line x1="707.40" y1="327.3" x2="707.40" y2="329.90000000000003" stroke="#3c4a58" stroke-width="0.7"/><line x1="727.05" y1="327.3" x2="727.05" y2="329.90000000000003" stroke="#3c4a58" stroke-width="0.7"/><line x1="746.70" y1="327.3" x2="746.70" y2="329.90000000000003" stroke="#3c4a58" stroke-width="0.7"/><line x1="766.35" y1="327.3" x2="766.35" y2="329.90000000000003" stroke="#3c4a58" stroke-width="0.7"/><line x1="786.00" y1="327.3" x2="786.00" y2="329.90000000000003" stroke="#3c4a58" stroke-width="0.7"/><line x1="805.65" y1="327.3" x2="805.65" y2="329.90000000000003" stroke="#3c4a58" stroke-width="0.7"/><line x1="825.30" y1="327.3" x2="825.30" y2="329.90000000000003" stroke="#3c4a58" stroke-width="0.7"/><line x1="844.95" y1="327.3" x2="844.95" y2="329.90000000000003" stroke="#3c4a58" stroke-width="0.7"/><line x1="864.60" y1="327.3" x2="864.60" y2="329.90000000000003" stroke="#3c4a58" stroke-width="0.7"/><line x1="884.25" y1="327.3" x2="884.25" y2="329.90000000000003" stroke="#3c4a58" stroke-width="0.7"/><line x1="903.90" y1="327.3" x2="903.90" y2="329.90000000000003" stroke="#3c4a58" stroke-width="0.7"/><line x1="923.55" y1="327.3" x2="923.55" y2="329.90000000000003" stroke="#3c4a58" stroke-width="0.7"/><text x="689.80" y="328.60" font-size="3.8" text-anchor="end" fill="#222" font-family="Liberation Sans, sans-serif">0</text><text x="689.80" y="303.94" font-size="3.8" text-anchor="end" fill="#222" font-family="Liberation Sans, sans-serif">20</text><text x="689.80" y="279.28" font-size="3.8" text-anchor="end" fill="#222" font-family="Liberation Sans, sans-serif">40</text><text x="689.80" y="254.62" font-size="3.8" text-anchor="end" fill="#222" font-family="Liberation Sans, sans-serif">60</text><text x="689.80" y="229.96" font-size="3.8" text-anchor="end" fill="#222" font-family="Liberation Sans, sans-serif">80</text><text x="689.80" y="205.30" font-size="3.8" text-anchor="end" fill="#222" font-family="Liberation Sans, sans-serif">100</text><text transform="translate(679.5,271.6) rotate(-90)" font-size="3" text-anchor="middle" fill="#333" font-family="Liberation Sans, sans-serif">Overall Survival (months)</text><text transform="translate(708.60,332.90) rotate(-30)" font-size="3.9" font-weight="bold" text-anchor="end" fill="#2c3946" stroke="#2c3946" stroke-width="0.12" font-family="Liberation Sans, sans-serif">All patients</text><text transform="translate(728.25,332.90) rotate(-30)" font-size="3.9" font-weight="bold" text-anchor="end" fill="#2c3946" stroke="#2c3946" stroke-width="0.12" font-family="Liberation Sans, sans-serif">Intrathoracic recurrence</text><text transform="translate(747.90,332.90) rotate(-30)" font-size="3.9" font-weight="bold" text-anchor="end" fill="#2c3946" stroke="#2c3946" stroke-width="0.12" font-family="Liberation Sans, sans-serif">Extra-thoracic recurrence</text><text transform="translate(767.55,332.90) rotate(-30)" font-size="3.9" font-weight="bold" text-anchor="end" fill="#2c3946" stroke="#2c3946" stroke-width="0.12" font-family="Liberation Sans, sans-serif">Hematogenous metastasis</text><text transform="translate(787.20,332.90) rotate(-30)" font-size="3.9" font-weight="bold" text-anchor="end" fill="#2c3946" stroke="#2c3946" stroke-width="0.12" font-family="Liberation Sans, sans-serif">Lymphatic metastasis</text><text transform="translate(806.85,332.90) rotate(-30)" font-size="3.9" font-weight="bold" text-anchor="end" fill="#2c3946" stroke="#2c3946" stroke-width="0.12" font-family="Liberation Sans, sans-serif">Brain metastasis</text><text transform="translate(826.50,332.90) rotate(-30)" font-size="3.9" font-weight="bold" text-anchor="end" fill="#2c3946" stroke="#2c3946" stroke-width="0.12" font-family="Liberation Sans, sans-serif">Bone metastasis</text><text transform="translate(846.15,332.90) rotate(-30)" font-size="3.9" font-weight="bold" text-anchor="end" fill="#2c3946" stroke="#2c3946" stroke-width="0.12" font-family="Liberation Sans, sans-serif">Liver metastasis</text><text transform="translate(865.80,332.90) rotate(-30)" font-size="3.9" font-weight="bold" text-anchor="end" fill="#2c3946" stroke="#2c3946" stroke-width="0.12" font-family="Liberation Sans, sans-serif">Single p-N2</text><text transform="translate(885.45,332.90) rotate(-30)" font-size="3.9" font-weight="bold" text-anchor="end" fill="#2c3946" stroke="#2c3946" stroke-width="0.12" font-family="Liberation Sans, sans-serif">Multiple p-N2</text><text transform="translate(905.10,332.90) rotate(-30)" font-size="3.9" font-weight="bold" text-anchor="end" fill="#2c3946" stroke="#2c3946" stroke-width="0.12" font-family="Liberation Sans, sans-serif">Single-station p-N2</text><text transform="translate(924.75,332.90) rotate(-30)" font-size="3.9" font-weight="bold" text-anchor="end" fill="#2c3946" stroke="#2c3946" stroke-width="0.12" font-family="Liberation Sans, sans-serif">Multiple-station p-N2</text></svg>
</div></body></html>
